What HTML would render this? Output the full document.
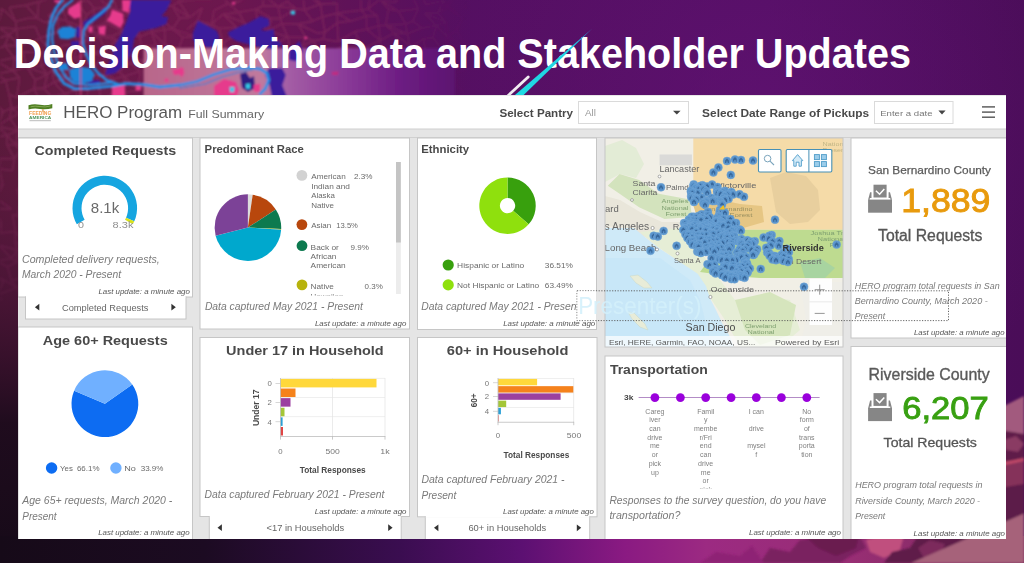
<!DOCTYPE html>
<html><head><meta charset="utf-8">
<style>
*{margin:0;padding:0}
html,body{width:1024px;height:563px;overflow:hidden;background:#4b0f5c}
svg{display:block;position:absolute;left:0;top:0}
text{font-family:"Liberation Sans",sans-serif}
</style></head><body>
<svg width="1024" height="563" viewBox="0 0 1024 563">
<defs>
<linearGradient id="gbase" x1="0" y1="0" x2="1" y2="0">
<stop offset="0" stop-color="#5c1a3c"/><stop offset="0.10" stop-color="#6a1a48"/><stop offset="0.22" stop-color="#6c174e"/><stop offset="0.34" stop-color="#5f1258"/><stop offset="0.46" stop-color="#540f61"/><stop offset="0.75" stop-color="#520e61"/><stop offset="1" stop-color="#4a0d58"/></linearGradient>
<linearGradient id="gleft" x1="0" y1="0" x2="0" y2="1">
<stop offset="0" stop-color="#5a1a3c" stop-opacity="0"/><stop offset="0.3" stop-color="#4a1438" stop-opacity="0.45"/><stop offset="0.7" stop-color="#1c0b1c" stop-opacity="0.95"/><stop offset="1" stop-color="#160a18"/></linearGradient>
<linearGradient id="gbot" x1="0" y1="0" x2="1" y2="0">
<stop offset="0" stop-color="#160a18"/><stop offset="0.2" stop-color="#1c0b22"/><stop offset="0.39" stop-color="#3a0d50"/><stop offset="0.51" stop-color="#5c1072"/><stop offset="0.61" stop-color="#8a1a82"/><stop offset="0.69" stop-color="#9c2a82"/><stop offset="0.83" stop-color="#982e74"/><stop offset="1" stop-color="#7a2a5c"/></linearGradient>
<linearGradient id="gpanel" x1="0" y1="0" x2="1" y2="0">
<stop offset="0" stop-color="#b8668a"/><stop offset="0.38" stop-color="#c07a9e"/><stop offset="0.45" stop-color="#a660a6"/><stop offset="0.65" stop-color="#8a3a98"/><stop offset="0.83" stop-color="#6c1c82"/><stop offset="1" stop-color="#5c1470"/></linearGradient>
<linearGradient id="gartfade" x1="0" y1="0" x2="1" y2="0">
<stop offset="0" stop-color="#fff" stop-opacity="1"/><stop offset="0.7" stop-color="#fff" stop-opacity="1"/><stop offset="1" stop-color="#fff" stop-opacity="0"/></linearGradient>
<pattern id="roads" width="46" height="40" patternUnits="userSpaceOnUse" patternTransform="rotate(-17) skewX(14)">
<path d="M0,6 L46,10 M0,22 L20,20 L46,26 M0,35 L46,33 M8,0 L10,40 M22,0 L20,20 L26,40 M36,0 L38,40 M10,14 L22,12 M26,30 L38,28 M38,16 L46,18 M0,29 L8,28" stroke="#9a3668" stroke-width="1.3" fill="none" opacity="0.32"/>
</pattern>
<mask id="artmask"><rect x="0" y="0" width="470" height="300" fill="url(#gartfade)"/></mask>
<radialGradient id="gglow" cx="760" cy="120" r="330" gradientUnits="userSpaceOnUse"><stop offset="0" stop-color="#66147a" stop-opacity="0.55"/><stop offset="1" stop-color="#66147a" stop-opacity="0"/></radialGradient>
<filter id="soft"><feGaussianBlur stdDeviation="0.62"/></filter>
<filter id="soft2"><feGaussianBlur stdDeviation="0.8"/></filter>
</defs>
<rect width="1024" height="563" fill="url(#gbase)"/>
<rect x="400" y="0" width="624" height="420" fill="url(#gglow)"/>
<g filter="url(#soft2)">
<g mask="url(#artmask)"><path d="M-101.4,-35.4L-91.6,-39.4M-101.4,-35.4L-100.2,-24.2M-101.4,-35.4L-88.3,-26.5M-100.2,-24.2L-88.3,-26.5M-100.9,-11.3L-87.5,-12.4M-100.9,-11.3L-106.8,0.1M-100.9,-11.3L-93.8,1.9M-106.8,0.1L-93.8,1.9M-106.8,0.1L-91.3,13.1M-99.8,14.3L-91.3,13.1M-99.8,14.3L-107.7,22.3M-107.7,22.3L-104.7,38.4M-104.7,38.4L-90.6,34.0M-104.7,38.4L-102.3,44.2M-102.3,44.2L-86.8,50.3M-102.3,44.2L-96.7,63.5M-102.3,44.2L-89.8,62.9M-96.7,63.5L-89.8,62.9M-96.7,63.5L-102.6,72.7M-102.6,72.7L-93.6,70.9M-102.6,72.7L-104.1,79.8M-102.6,72.7L-84.8,84.9M-104.1,79.8L-84.8,84.9M-104.1,79.8L-103.7,92.2M-104.1,79.8L-94.6,99.6M-103.7,92.2L-94.6,99.6M-103.7,92.2L-103.8,105.6M-103.8,105.6L-90.6,105.7M-103.8,105.6L-108.2,119.3M-108.2,119.3L-101.5,134.3M-101.5,134.3L-103.8,144.6M-101.5,134.3L-94.7,144.2M-103.8,144.6L-94.7,144.2M-103.8,144.6L-101.0,156.8M-101.0,156.8L-90.3,156.3M-101.0,156.8L-104.4,165.7M-104.4,165.7L-92.2,167.1M-100.9,193.0L-90.3,194.3M-100.9,193.0L-102.7,201.2M-102.7,201.2L-90.9,200.6M-102.7,201.2L-105.9,211.8M-105.9,211.8L-87.3,217.8M-105.9,211.8L-98.6,226.4M-98.6,226.4L-90.3,224.8M-98.6,226.4L-100.9,238.3M-100.9,238.3L-96.9,253.9M-100.9,238.3L-90.7,254.8M-96.9,253.9L-90.7,254.8M-96.9,253.9L-108.5,260.8M-108.5,260.8L-87.6,263.9M-108.5,260.8L-97.3,274.8M-97.3,274.8L-88.7,271.9M-97.3,274.8L-99.7,286.2M-99.7,286.2L-95.2,290.7M-104.8,300.0L-90.4,300.6M-104.8,300.0L-101.5,309.1M-104.8,300.0L-93.2,313.5M-101.5,309.1L-104.7,321.6M-104.7,321.6L-87.1,321.3M-104.7,321.6L-99.8,336.9M-99.8,336.9L-93.9,336.6M-99.8,336.9L-104.4,344.8M-104.4,344.8L-91.9,344.7M-91.6,-39.4L-74.5,-33.1M-91.6,-39.4L-88.3,-26.5M-91.6,-39.4L-77.0,-25.7M-88.3,-26.5L-77.0,-25.7M-88.3,-26.5L-87.5,-12.4M-87.5,-12.4L-71.2,-14.3M-93.8,1.9L-82.4,-1.8M-93.8,1.9L-91.3,13.1M-91.3,13.1L-94.5,23.3M-94.5,23.3L-80.9,22.9M-90.6,34.0L-74.4,32.9M-90.6,34.0L-86.8,50.3M-89.8,62.9L-70.7,61.1M-89.8,62.9L-93.6,70.9M-93.6,70.9L-76.3,72.4M-93.6,70.9L-84.8,84.9M-84.8,84.9L-78.2,80.0M-84.8,84.9L-94.6,99.6M-94.6,99.6L-82.3,99.0M-94.6,99.6L-90.6,105.7M-90.6,105.7L-73.2,111.3M-90.6,105.7L-88.5,118.2M-88.5,118.2L-82.3,120.7M-88.5,118.2L-89.8,128.1M-89.8,128.1L-75.2,133.4M-89.8,128.1L-94.7,144.2M-89.8,128.1L-79.6,147.5M-94.7,144.2L-79.6,147.5M-90.3,156.3L-78.8,155.8M-90.3,156.3L-92.2,167.1M-92.2,167.1L-75.9,170.6M-92.2,167.1L-83.9,179.3M-83.9,179.3L-90.3,194.3M-83.9,179.3L-75.4,194.7M-90.3,194.3L-75.4,194.7M-90.3,194.3L-90.9,200.6M-90.9,200.6L-76.3,204.8M-90.9,200.6L-87.3,217.8M-87.3,217.8L-74.4,218.2M-87.3,217.8L-90.3,224.8M-90.3,224.8L-75.7,229.6M-90.3,224.8L-88.8,242.7M-88.8,242.7L-74.7,239.8M-88.8,242.7L-90.7,254.8M-90.7,254.8L-73.9,250.2M-90.7,254.8L-87.6,263.9M-87.6,263.9L-88.7,271.9M-88.7,271.9L-95.2,290.7M-95.2,290.7L-73.6,290.1M-95.2,290.7L-90.4,300.6M-95.2,290.7L-72.9,298.1M-90.4,300.6L-72.9,298.1M-90.4,300.6L-93.2,313.5M-93.2,313.5L-75.9,311.6M-93.2,313.5L-87.1,321.3M-87.1,321.3L-93.9,336.6M-87.1,321.3L-81.7,336.9M-93.9,336.6L-81.7,336.9M-93.9,336.6L-91.9,344.7M-74.5,-33.1L-62.2,-38.0M-74.5,-33.1L-77.0,-25.7M-77.0,-25.7L-63.2,-23.9M-77.0,-25.7L-71.2,-14.3M-71.2,-14.3L-61.0,-8.6M-71.2,-14.3L-82.4,-1.8M-82.4,-1.8L-67.2,-3.9M-82.4,-1.8L-75.5,8.4M-75.5,8.4L-63.8,13.4M-75.5,8.4L-80.9,22.9M-80.9,22.9L-67.7,21.3M-80.9,22.9L-74.4,32.9M-74.4,32.9L-58.3,37.2M-74.4,32.9L-79.2,51.0M-79.2,51.0L-65.5,51.0M-79.2,51.0L-70.7,61.1M-79.2,51.0L-63.6,61.1M-70.7,61.1L-63.6,61.1M-70.7,61.1L-76.3,72.4M-76.3,72.4L-67.7,71.2M-76.3,72.4L-78.2,80.0M-78.2,80.0L-59.2,87.0M-78.2,80.0L-82.3,99.0M-82.3,99.0L-61.6,94.8M-82.3,99.0L-73.2,111.3M-73.2,111.3L-61.3,106.2M-73.2,111.3L-82.3,120.7M-75.2,133.4L-59.0,134.3M-75.2,133.4L-79.6,147.5M-79.6,147.5L-63.1,147.1M-79.6,147.5L-78.8,155.8M-78.8,155.8L-75.9,170.6M-75.9,170.6L-65.4,165.6M-75.9,170.6L-72.9,181.0M-72.9,181.0L-64.6,178.7M-72.9,181.0L-75.4,194.7M-75.4,194.7L-76.3,204.8M-76.3,204.8L-63.7,206.0M-76.3,204.8L-74.4,218.2M-74.4,218.2L-60.7,214.9M-74.4,218.2L-75.7,229.6M-75.7,229.6L-65.8,223.5M-75.7,229.6L-74.7,239.8M-74.7,239.8L-73.9,250.2M-73.9,250.2L-60.1,251.7M-73.9,250.2L-77.3,264.0M-77.3,264.0L-66.7,265.5M-78.8,276.2L-66.3,272.2M-78.8,276.2L-73.6,290.1M-73.6,290.1L-65.4,283.2M-72.9,298.1L-59.0,296.9M-72.9,298.1L-75.9,311.6M-75.9,311.6L-68.2,307.3M-75.9,311.6L-75.5,325.6M-75.5,325.6L-60.8,322.5M-75.5,325.6L-81.7,336.9M-81.7,336.9L-63.8,336.1M-62.2,-38.0L-47.3,-38.3M-62.2,-38.0L-63.2,-23.9M-63.2,-23.9L-52.2,-26.5M-63.2,-23.9L-61.0,-8.6M-61.0,-8.6L-67.2,-3.9M-61.0,-8.6L-50.1,-2.6M-67.2,-3.9L-50.1,-2.6M-67.2,-3.9L-63.8,13.4M-63.8,13.4L-67.7,21.3M-67.7,21.3L-50.2,24.1M-67.7,21.3L-58.3,37.2M-58.3,37.2L-48.0,37.9M-58.3,37.2L-65.5,51.0M-65.5,51.0L-63.6,61.1M-63.6,61.1L-45.3,56.5M-63.6,61.1L-67.7,71.2M-67.7,71.2L-48.1,73.5M-67.7,71.2L-59.2,87.0M-59.2,87.0L-52.3,83.3M-59.2,87.0L-61.6,94.8M-59.2,87.0L-50.9,99.0M-61.6,94.8L-61.3,106.2M-59.0,134.3L-45.0,131.3M-59.0,134.3L-63.1,147.1M-63.1,147.1L-47.0,158.0M-64.0,152.8L-47.0,158.0M-64.0,152.8L-65.4,165.6M-64.6,178.7L-51.6,182.6M-64.6,178.7L-63.9,191.3M-63.9,191.3L-47.7,195.2M-63.9,191.3L-63.7,206.0M-63.9,191.3L-48.7,205.6M-63.7,206.0L-60.7,214.9M-60.7,214.9L-53.6,218.6M-60.7,214.9L-65.8,223.5M-65.8,223.5L-45.8,226.0M-65.8,223.5L-61.6,235.5M-65.8,223.5L-55.8,238.7M-61.6,235.5L-55.8,238.7M-61.6,235.5L-60.1,251.7M-60.1,251.7L-48.5,253.3M-60.1,251.7L-66.7,265.5M-66.7,265.5L-52.1,259.3M-66.3,272.2L-46.2,271.6M-65.4,283.2L-49.3,284.4M-65.4,283.2L-59.0,296.9M-59.0,296.9L-50.5,301.3M-59.0,296.9L-68.2,307.3M-68.2,307.3L-55.2,308.1M-68.2,307.3L-60.8,322.5M-60.8,322.5L-48.9,324.7M-60.8,322.5L-63.8,336.1M-63.8,336.1L-59.2,350.5M-59.2,350.5L-45.0,346.8M-47.3,-38.3L-32.0,-39.2M-47.3,-38.3L-52.2,-26.5M-52.2,-26.5L-41.5,-23.7M-52.2,-26.5L-53.4,-12.2M-52.2,-26.5L-37.9,-10.1M-53.4,-12.2L-50.1,-2.6M-50.1,-2.6L-37.8,0.2M-51.0,10.7L-50.2,24.1M-50.2,24.1L-40.7,23.0M-50.2,24.1L-48.0,37.9M-48.0,37.9L-32.9,39.1M-53.0,50.2L-41.6,50.6M-53.0,50.2L-45.3,56.5M-53.0,50.2L-31.8,60.0M-45.3,56.5L-31.8,60.0M-45.3,56.5L-48.1,73.5M-45.3,56.5L-38.3,69.4M-48.1,73.5L-38.3,69.4M-48.1,73.5L-52.3,83.3M-52.3,83.3L-35.7,83.7M-50.9,99.0L-38.1,91.9M-50.9,99.0L-50.1,108.2M-50.9,99.0L-31.8,107.8M-50.1,108.2L-31.8,107.8M-48.6,122.0L-39.9,122.0M-48.6,122.0L-45.0,131.3M-45.0,131.3L-35.4,131.5M-45.0,131.3L-50.6,141.2M-50.6,141.2L-37.3,140.0M-50.6,141.2L-47.0,158.0M-47.0,158.0L-35.7,154.8M-47.0,158.0L-50.7,169.2M-50.7,169.2L-34.9,170.8M-50.7,169.2L-51.6,182.6M-50.7,169.2L-38.1,179.2M-51.6,182.6L-38.1,179.2M-47.7,195.2L-42.4,190.8M-47.7,195.2L-48.7,205.6M-48.7,205.6L-33.2,206.5M-48.7,205.6L-53.6,218.6M-48.7,205.6L-39.2,213.8M-53.6,218.6L-45.8,226.0M-45.8,226.0L-55.8,238.7M-45.8,226.0L-35.2,236.2M-55.8,238.7L-35.2,236.2M-55.8,238.7L-48.5,253.3M-48.5,253.3L-33.5,247.3M-48.5,253.3L-52.1,259.3M-52.1,259.3L-41.8,260.9M-49.3,284.4L-50.5,301.3M-50.5,301.3L-39.6,300.8M-50.5,301.3L-55.2,308.1M-55.2,308.1L-42.4,311.0M-55.2,308.1L-48.9,324.7M-48.9,324.7L-38.2,320.5M-48.9,324.7L-48.9,336.4M-48.9,324.7L-38.7,334.4M-48.9,336.4L-45.0,346.8M-45.0,346.8L-37.1,346.1M-32.0,-39.2L-22.7,-38.6M-32.0,-39.2L-41.5,-23.7M-41.5,-23.7L-37.9,-10.1M-41.5,-23.7L-21.8,-11.7M-37.9,-10.1L-21.8,-11.7M-37.9,-10.1L-37.8,0.2M-37.8,0.2L-22.8,0.9M-37.8,0.2L-32.9,12.4M-32.9,12.4L-19.8,9.8M-32.9,12.4L-40.7,23.0M-40.7,23.0L-32.9,39.1M-32.9,39.1L-19.4,34.4M-32.9,39.1L-41.6,50.6M-32.9,39.1L-27.7,51.2M-41.6,50.6L-31.8,60.0M-31.8,60.0L-25.5,63.8M-31.8,60.0L-38.3,69.4M-31.8,60.0L-22.5,68.8M-38.3,69.4L-22.5,68.8M-38.3,69.4L-35.7,83.7M-35.7,83.7L-38.1,91.9M-38.1,91.9L-28.2,92.5M-38.1,91.9L-31.8,107.8M-38.1,91.9L-20.0,107.0M-31.8,107.8L-20.0,107.0M-31.8,107.8L-39.9,122.0M-39.9,122.0L-35.4,131.5M-35.4,131.5L-23.9,133.0M-35.4,131.5L-37.3,140.0M-35.4,131.5L-30.3,141.1M-37.3,140.0L-30.3,141.1M-37.3,140.0L-21.4,158.8M-35.7,154.8L-21.4,158.8M-35.7,154.8L-34.9,170.8M-34.9,170.8L-38.1,179.2M-38.1,179.2L-22.9,181.5M-42.4,190.8L-33.2,206.5M-42.4,190.8L-25.8,199.9M-33.2,206.5L-25.8,199.9M-33.2,206.5L-29.5,211.6M-39.2,213.8L-29.5,211.6M-39.2,213.8L-38.8,228.2M-38.8,228.2L-22.5,227.4M-38.8,228.2L-35.2,236.2M-35.2,236.2L-25.4,236.4M-35.2,236.2L-33.5,247.3M-33.5,247.3L-25.8,248.8M-33.5,247.3L-41.8,260.9M-41.8,260.9L-22.9,267.0M-41.8,260.9L-34.3,273.7M-34.3,273.7L-19.2,271.8M-40.3,288.0L-29.9,290.7M-40.3,288.0L-39.6,300.8M-40.3,288.0L-23.3,301.1M-39.6,300.8L-23.3,301.1M-39.6,300.8L-42.4,311.0M-42.4,311.0L-38.2,320.5M-38.2,320.5L-22.9,322.4M-38.2,320.5L-38.7,334.4M-38.7,334.4L-25.1,331.0M-38.7,334.4L-37.1,346.1M-37.1,346.1L-21.2,349.6M-22.7,-38.6L-12.9,-36.2M-28.7,-22.9L-21.8,-11.7M-21.8,-11.7L-12.7,-14.6M-21.8,-11.7L-22.8,0.9M-22.8,0.9L-12.9,-3.9M-22.8,0.9L-19.8,9.8M-22.8,0.9L-6.5,14.4M-19.8,9.8L-6.5,14.4M-19.8,9.8L-23.8,26.4M-23.8,26.4L-11.2,26.8M-23.8,26.4L-19.4,34.4M-19.4,34.4L-8.8,35.1M-19.4,34.4L-27.7,51.2M-27.7,51.2L-12.1,47.9M-27.7,51.2L-25.5,63.8M-25.5,63.8L-5.7,62.2M-25.5,63.8L-22.5,68.8M-25.5,63.8L-15.2,75.1M-22.5,68.8L-15.2,75.1M-22.5,68.8L-25.3,85.5M-25.3,85.5L-7.8,85.9M-25.3,85.5L-28.2,92.5M-20.0,107.0L-6.4,110.7M-20.0,107.0L-23.4,116.6M-23.4,116.6L-11.2,121.7M-23.4,116.6L-23.9,133.0M-23.9,133.0L-30.3,141.1M-21.8,164.4L-17.4,166.3M-21.8,164.4L-22.9,181.5M-22.9,181.5L-26.0,192.8M-22.9,181.5L-15.4,194.9M-26.0,192.8L-15.4,194.9M-26.0,192.8L-25.8,199.9M-25.8,199.9L-8.5,202.0M-25.8,199.9L-29.5,211.6M-29.5,211.6L-11.6,215.8M-22.5,227.4L-9.7,226.4M-22.5,227.4L-25.4,236.4M-25.4,236.4L-8.5,240.3M-25.4,236.4L-25.8,248.8M-25.4,236.4L-8.2,253.3M-25.8,248.8L-8.2,253.3M-25.8,248.8L-22.9,267.0M-25.8,248.8L-8.7,259.3M-22.9,267.0L-8.7,259.3M-22.9,267.0L-19.2,271.8M-22.9,267.0L-9.0,277.0M-19.2,271.8L-29.9,290.7M-29.9,290.7L-15.2,286.3M-29.9,290.7L-23.3,301.1M-23.3,301.1L-27.6,310.7M-27.6,310.7L-14.1,307.7M-27.6,310.7L-22.9,322.4M-22.9,322.4L-12.2,326.2M-25.1,331.0L-12.5,334.9M-25.1,331.0L-21.2,349.6M-25.1,331.0L-5.8,347.4M-21.2,349.6L-5.8,347.4M-12.9,-36.2L-10.8,-24.7M-10.8,-24.7L2.8,-27.3M-10.8,-24.7L-12.7,-14.6M-12.7,-14.6L-12.9,-3.9M-12.7,-14.6L-4.1,3.4M-12.9,-3.9L-4.1,3.4M-12.9,-3.9L-6.5,14.4M-6.5,14.4L-11.2,26.8M-11.2,26.8L-3.0,23.9M-11.2,26.8L-8.8,35.1M-8.8,35.1L4.0,32.3M-12.1,47.9L-5.7,62.2M-5.7,62.2L3.2,60.6M-5.7,62.2L-15.2,75.1M-15.2,75.1L-1.2,70.0M-15.2,75.1L-7.8,85.9M-15.2,75.1L4.4,84.2M-7.8,85.9L4.4,84.2M-7.8,85.9L-10.2,94.9M-7.8,85.9L-1.9,97.4M-10.2,94.9L-1.9,97.4M-10.2,94.9L-6.4,110.7M-6.4,110.7L1.2,103.8M-6.4,110.7L-11.2,121.7M-7.6,130.8L-0.1,133.6M-11.0,140.1L-1.0,146.7M-11.0,140.1L-11.4,155.2M-11.4,155.2L5.2,151.9M-11.4,155.2L-17.4,166.3M-17.4,166.3L-8.8,180.4M-8.8,180.4L-0.8,182.6M-8.8,180.4L-15.4,194.9M-15.4,194.9L-8.5,202.0M-8.5,202.0L7.3,201.3M-8.5,202.0L-11.6,215.8M-11.6,215.8L0.2,218.8M-11.6,215.8L-9.7,226.4M-9.7,226.4L5.0,227.0M-9.7,226.4L-8.5,240.3M-8.5,240.3L-8.2,253.3M-8.2,253.3L3.9,248.1M-8.2,253.3L-8.7,259.3M-8.2,253.3L1.1,262.8M-8.7,259.3L1.1,262.8M-8.7,259.3L-9.0,277.0M-9.0,277.0L0.3,271.5M-9.0,277.0L-15.2,286.3M-15.2,286.3L0.3,284.0M-15.2,286.3L-14.0,296.6M-15.2,286.3L2.5,300.3M-14.0,296.6L2.5,300.3M-14.0,296.6L-14.1,307.7M-14.1,307.7L-0.4,309.1M-14.1,307.7L-12.2,326.2M-12.2,326.2L3.7,322.3M-12.2,326.2L-12.5,334.9M-12.5,334.9L2.5,335.1M-12.5,334.9L-5.8,347.4M-5.8,347.4L7.5,350.5M7.5,-34.8L18.1,-38.0M7.5,-34.8L2.8,-27.3M2.8,-27.3L9.5,-20.8M2.8,-27.3L3.9,-9.9M3.9,-9.9L18.6,-11.0M-4.1,3.4L11.7,-1.8M-0.1,11.7L17.7,12.5M-0.1,11.7L-3.0,23.9M-0.1,11.7L13.8,25.0M-3.0,23.9L13.8,25.0M-3.0,23.9L4.0,32.3M4.0,32.3L18.3,33.4M4.0,32.3L4.0,47.2M4.0,47.2L10.7,51.7M4.0,47.2L3.2,60.6M3.2,60.6L19.7,62.8M3.2,60.6L-1.2,70.0M3.2,60.6L8.9,68.2M-1.2,70.0L8.9,68.2M-1.2,70.0L4.4,84.2M4.4,84.2L-1.9,97.4M4.4,84.2L14.1,92.5M-1.9,97.4L14.1,92.5M-1.9,97.4L1.2,103.8M-1.9,97.4L16.4,104.2M1.2,103.8L-2.3,115.9M-2.3,115.9L9.3,121.0M-2.3,115.9L-0.1,133.6M-0.1,133.6L16.5,132.6M-0.1,133.6L11.9,143.3M5.2,151.9L13.4,154.2M5.2,151.9L4.4,171.0M5.2,151.9L15.2,170.1M4.4,171.0L15.2,170.1M4.4,171.0L-0.8,182.6M-0.8,182.6L12.2,176.4M-0.8,182.6L-0.6,191.2M-0.6,191.2L15.8,192.3M-0.6,191.2L7.3,201.3M7.3,201.3L18.4,201.0M0.2,218.8L12.3,213.3M0.2,218.8L5.0,227.0M5.0,227.0L18.8,226.2M5.0,227.0L4.3,241.7M4.3,241.7L14.4,243.1M4.3,241.7L3.9,248.1M3.9,248.1L14.4,251.5M3.9,248.1L1.1,262.8M1.1,262.8L15.2,266.5M1.1,262.8L0.3,271.5M0.3,271.5L15.3,274.0M0.3,271.5L0.3,284.0M0.3,284.0L2.5,300.3M2.5,300.3L12.2,295.7M2.5,300.3L-0.4,309.1M-0.4,309.1L13.6,310.8M-0.4,309.1L3.7,322.3M3.7,322.3L17.7,321.3M2.5,335.1L15.5,331.5M2.5,335.1L7.5,350.5M7.5,350.5L13.4,348.1M18.1,-38.0L9.5,-20.8M18.1,-38.0L28.0,-22.4M9.5,-20.8L18.6,-11.0M9.5,-20.8L27.0,-14.8M18.6,-11.0L27.0,-14.8M18.6,-11.0L11.7,-1.8M18.6,-11.0L24.7,1.8M11.7,-1.8L24.7,1.8M11.7,-1.8L17.7,12.5M17.7,12.5L27.8,8.9M17.7,12.5L13.8,25.0M17.7,12.5L27.9,24.5M13.8,25.0L27.9,24.5M13.8,25.0L18.3,33.4M18.3,33.4L10.7,51.7M10.7,51.7L29.7,47.3M19.7,62.8L31.7,58.2M19.7,62.8L8.9,68.2M8.9,68.2L24.4,71.0M13.9,83.1L32.9,86.9M13.9,83.1L14.1,92.5M14.1,92.5L23.7,94.6M14.1,92.5L16.4,104.2M14.1,92.5L27.8,106.5M16.4,104.2L27.8,106.5M16.4,104.2L9.3,121.0M9.3,121.0L25.1,118.7M9.3,121.0L16.5,132.6M16.5,132.6L26.3,132.1M16.5,132.6L11.9,143.3M11.9,143.3L28.7,143.8M13.4,154.2L32.0,156.0M13.4,154.2L15.2,170.1M13.4,154.2L23.1,169.5M15.2,170.1L23.1,169.5M15.2,170.1L12.2,176.4M15.2,170.1L32.4,177.7M12.2,176.4L32.4,177.7M12.2,176.4L15.8,192.3M15.8,192.3L21.7,191.5M15.8,192.3L18.4,201.0M18.4,201.0L29.4,203.9M18.4,201.0L12.3,213.3M12.3,213.3L30.2,216.5M12.3,213.3L18.8,226.2M18.8,226.2L31.7,223.8M14.4,243.1L26.4,241.5M14.4,243.1L14.4,251.5M14.4,243.1L25.3,247.8M14.4,251.5L25.3,247.8M14.4,251.5L15.2,266.5M15.2,266.5L28.1,266.3M15.2,266.5L15.3,274.0M15.3,274.0L25.3,276.2M15.3,274.0L9.4,290.0M9.4,290.0L22.8,289.0M9.4,290.0L12.2,295.7M12.2,295.7L30.3,297.0M12.2,295.7L13.6,310.8M13.6,310.8L17.7,321.3M17.7,321.3L29.2,325.0M17.7,321.3L15.5,331.5M15.5,331.5L25.0,333.6M15.5,331.5L13.4,348.1M13.4,348.1L33.2,348.2M25.2,-37.4L41.9,-35.6M25.2,-37.4L28.0,-22.4M28.0,-22.4L41.0,-22.3M28.0,-22.4L27.0,-14.8M27.0,-14.8L45.7,-12.7M27.0,-14.8L24.7,1.8M24.7,1.8L41.9,1.3M24.7,1.8L27.8,8.9M27.8,8.9L45.2,14.4M27.8,8.9L27.9,24.5M27.9,24.5L42.0,27.0M27.9,24.5L32.8,39.4M27.9,24.5L46.1,37.0M32.8,39.4L46.1,37.0M32.8,39.4L29.7,47.3M29.7,47.3L39.2,49.5M29.7,47.3L31.7,58.2M31.7,58.2L24.4,71.0M31.7,58.2L38.3,68.9M24.4,71.0L38.3,68.9M24.4,71.0L32.9,86.9M24.4,71.0L44.2,87.6M32.9,86.9L44.2,87.6M32.9,86.9L23.7,94.6M23.7,94.6L37.9,93.0M23.7,94.6L27.8,106.5M27.8,106.5L39.3,107.0M27.8,106.5L25.1,118.7M25.1,118.7L37.1,123.4M25.1,118.7L26.3,132.1M25.1,118.7L38.0,130.0M26.3,132.1L38.0,130.0M26.3,132.1L28.7,143.8M28.7,143.8L35.5,144.7M28.7,143.8L32.0,156.0M32.0,156.0L44.5,152.9M32.0,156.0L23.1,169.5M23.1,169.5L35.1,167.1M32.4,177.7L21.7,191.5M21.7,191.5L34.8,188.2M21.7,191.5L29.4,203.9M21.7,191.5L39.2,201.1M29.4,203.9L39.2,201.1M29.4,203.9L30.2,216.5M30.2,216.5L36.6,217.0M30.2,216.5L31.7,223.8M31.7,223.8L42.9,225.0M31.7,223.8L26.4,241.5M26.4,241.5L25.3,247.8M25.3,247.8L39.1,253.2M25.3,247.8L28.1,266.3M28.1,266.3L37.3,263.5M28.1,266.3L25.3,276.2M25.3,276.2L44.9,274.9M22.8,289.0L36.8,290.1M22.8,289.0L30.3,297.0M30.3,297.0L23.5,313.1M23.5,313.1L39.4,314.6M23.5,313.1L29.2,325.0M23.5,313.1L41.8,320.7M29.2,325.0L41.8,320.7M29.2,325.0L25.0,333.6M25.0,333.6L34.9,338.5M33.2,348.2L44.7,345.9M41.9,-35.6L55.2,-35.8M41.9,-35.6L50.0,-20.0M41.0,-22.3L50.0,-20.0M45.7,-12.7L47.6,-0.2M41.9,1.3L47.6,-0.2M41.9,1.3L45.2,14.4M45.2,14.4L53.8,14.3M45.2,14.4L42.0,27.0M42.0,27.0L53.9,24.8M42.0,27.0L46.1,37.0M46.1,37.0L51.9,33.1M46.1,37.0L39.2,49.5M39.2,49.5L50.4,45.9M39.2,49.5L44.7,59.2M44.7,59.2L58.3,59.9M44.7,59.2L38.3,68.9M38.3,68.9L53.2,75.7M38.3,68.9L44.2,87.6M44.2,87.6L52.9,84.0M37.9,93.0L48.9,97.8M39.3,107.0L50.5,110.2M39.3,107.0L37.1,123.4M37.1,123.4L38.0,130.0M38.0,130.0L51.2,129.7M38.0,130.0L35.5,144.7M35.5,144.7L53.9,140.3M35.5,144.7L44.5,152.9M44.5,152.9L54.8,155.2M44.5,152.9L35.1,167.1M35.1,167.1L56.1,168.1M35.1,167.1L42.8,182.7M42.8,182.7L58.2,177.8M42.8,182.7L34.8,188.2M34.8,188.2L39.2,201.1M39.2,201.1L58.8,200.0M36.6,217.0L54.9,212.9M36.6,217.0L42.9,225.0M36.6,217.0L55.4,227.4M42.9,225.0L55.4,227.4M42.9,225.0L36.2,237.4M36.2,237.4L48.9,241.9M36.2,237.4L39.1,253.2M39.1,253.2L53.3,249.6M39.1,253.2L37.3,263.5M37.3,263.5L48.2,261.6M37.3,263.5L44.9,274.9M44.9,274.9L36.8,290.1M45.7,297.7L51.5,298.2M45.7,297.7L39.4,314.6M39.4,314.6L51.7,314.7M39.4,314.6L41.8,320.7M39.4,314.6L58.0,324.2M41.8,320.7L58.0,324.2M41.8,320.7L34.9,338.5M34.9,338.5L47.6,333.9M44.7,345.9L56.9,344.7M55.2,-35.8L68.6,-36.2M55.2,-35.8L50.0,-20.0M50.0,-20.0L56.4,-14.1M56.4,-14.1L70.7,-14.3M47.6,-0.2L66.0,-1.7M47.6,-0.2L53.8,14.3M53.8,14.3L53.9,24.8M53.9,24.8L63.2,22.6M53.9,24.8L51.9,33.1M51.9,33.1L67.0,37.2M51.9,33.1L50.4,45.9M51.9,33.1L62.8,45.4M50.4,45.9L62.8,45.4M50.4,45.9L58.3,59.9M58.3,59.9L70.1,58.4M58.3,59.9L53.2,75.7M58.3,59.9L69.0,72.3M53.2,75.7L69.0,72.3M53.2,75.7L52.9,84.0M53.2,75.7L70.0,82.4M52.9,84.0L70.0,82.4M52.9,84.0L48.9,97.8M52.9,84.0L67.9,92.4M48.9,97.8L67.9,92.4M48.9,97.8L50.5,110.2M50.5,110.2L64.8,104.4M50.5,110.2L55.1,122.2M55.1,122.2L66.6,121.3M55.1,122.2L51.2,129.7M51.2,129.7L65.1,130.8M51.2,129.7L68.0,144.3M53.9,140.3L68.0,144.3M53.9,140.3L54.8,155.2M53.9,140.3L64.3,153.3M54.8,155.2L64.3,153.3M56.1,168.1L58.2,177.8M58.2,177.8L67.2,176.0M58.2,177.8L54.6,190.7M58.2,177.8L68.8,190.8M54.6,190.7L68.8,190.8M54.6,190.7L58.8,200.0M58.8,200.0L68.1,204.5M58.8,200.0L54.9,212.9M58.8,200.0L67.4,217.8M54.9,212.9L67.4,217.8M54.9,212.9L55.4,227.4M55.4,227.4L67.0,225.9M55.4,227.4L48.9,241.9M48.9,241.9L64.2,235.3M48.9,241.9L53.3,249.6M48.9,241.9L67.1,252.8M53.3,249.6L67.1,252.8M48.2,261.6L69.3,265.4M54.7,276.8L69.4,275.9M54.7,276.8L50.7,288.5M50.7,288.5L60.7,285.7M50.7,288.5L51.5,298.2M51.5,298.2L66.6,300.2M51.5,298.2L51.7,314.7M51.7,314.7L61.5,310.0M51.7,314.7L58.0,324.2M58.0,324.2L68.1,325.2M58.0,324.2L47.6,333.9M47.6,333.9L67.9,335.8M47.6,333.9L56.9,344.7M56.9,344.7L64.9,349.0M68.6,-36.2L84.6,-35.5M60.6,-20.0L76.7,-23.9M60.6,-20.0L70.7,-14.3M60.6,-20.0L77.8,-10.3M70.7,-14.3L77.8,-10.3M70.7,-14.3L66.0,-1.7M66.0,-1.7L82.4,0.1M66.9,12.3L82.9,14.6M66.9,12.3L63.2,22.6M63.2,22.6L67.0,37.2M67.0,37.2L82.1,33.5M67.0,37.2L62.8,45.4M67.0,37.2L74.2,45.8M62.8,45.4L74.2,45.8M62.8,45.4L70.1,58.4M70.1,58.4L81.7,61.4M70.1,58.4L69.0,72.3M69.0,72.3L76.5,75.2M69.0,72.3L70.0,82.4M70.0,82.4L79.8,83.4M70.0,82.4L67.9,92.4M67.9,92.4L74.6,99.5M67.9,92.4L64.8,104.4M64.8,104.4L77.7,110.9M64.8,104.4L66.6,121.3M66.6,121.3L78.4,120.1M66.6,121.3L65.1,130.8M65.1,130.8L81.5,129.7M65.1,130.8L68.0,144.3M68.0,144.3L81.7,147.5M68.0,144.3L64.3,153.3M64.3,153.3L83.9,156.3M64.3,153.3L61.9,164.4M64.3,153.3L74.6,170.0M61.9,164.4L74.6,170.0M61.9,164.4L67.2,176.0M67.2,176.0L79.1,182.6M67.2,176.0L68.8,190.8M67.2,176.0L75.7,191.9M68.8,190.8L75.7,191.9M68.8,190.8L68.1,204.5M68.1,204.5L84.0,200.8M68.1,204.5L67.4,217.8M67.4,217.8L78.4,211.9M67.4,217.8L67.0,225.9M67.0,225.9L64.2,235.3M64.2,235.3L82.4,242.7M67.1,252.8L82.4,249.6M67.1,252.8L69.3,265.4M69.3,265.4L79.5,265.0M69.3,265.4L69.4,275.9M69.4,275.9L60.7,285.7M69.4,275.9L80.7,283.2M60.7,285.7L80.7,283.2M60.7,285.7L66.6,300.2M66.6,300.2L78.3,298.7M61.5,310.0L68.1,325.2M61.5,310.0L81.6,320.3M68.1,325.2L81.6,320.3M68.1,325.2L67.9,335.8M67.9,335.8L78.2,333.0M67.9,335.8L64.9,349.0M64.9,349.0L81.6,345.5M84.6,-35.5L95.3,-39.6M84.6,-35.5L76.7,-23.9M76.7,-23.9L77.8,-10.3M77.8,-10.3L82.4,0.1M77.8,-10.3L90.7,-0.7M82.4,0.1L90.7,-0.7M82.4,0.1L82.9,14.6M82.9,14.6L95.1,13.5M82.9,14.6L75.3,27.5M75.3,27.5L93.3,25.9M75.3,27.5L82.1,33.5M82.1,33.5L93.9,39.8M82.1,33.5L74.2,45.8M74.2,45.8L94.0,50.7M74.2,45.8L81.7,61.4M81.7,61.4L93.2,59.3M81.7,61.4L76.5,75.2M76.5,75.2L79.8,83.4M76.5,75.2L94.2,83.9M79.8,83.4L94.2,83.9M79.8,83.4L74.6,99.5M74.6,99.5L77.7,110.9M74.6,99.5L92.4,104.1M77.7,110.9L92.4,104.1M77.7,110.9L78.4,120.1M77.7,110.9L93.0,122.8M78.4,120.1L93.0,122.8M78.4,120.1L81.5,129.7M81.5,129.7L96.1,132.3M81.5,129.7L81.7,147.5M81.7,147.5L93.3,142.0M81.7,147.5L83.9,156.3M81.7,147.5L94.8,152.0M83.9,156.3L94.8,152.0M83.9,156.3L74.6,170.0M74.6,170.0L87.6,167.0M74.6,170.0L79.1,182.6M79.1,182.6L94.0,178.6M79.1,182.6L75.7,191.9M75.7,191.9L87.0,192.9M75.7,191.9L84.0,200.8M84.0,200.8L94.2,201.2M78.4,211.9L89.3,214.4M78.4,211.9L76.8,224.7M76.8,224.7L91.6,223.8M76.8,224.7L82.4,242.7M76.8,224.7L94.7,242.9M82.4,242.7L94.7,242.9M82.4,242.7L82.4,249.6M82.4,249.6L79.5,265.0M79.5,265.0L90.3,265.6M79.5,265.0L79.9,275.8M79.5,265.0L91.5,277.1M79.9,275.8L91.5,277.1M80.7,283.2L91.6,290.3M78.3,298.7L90.4,301.3M78.3,298.7L74.8,310.1M74.8,310.1L87.6,311.3M74.8,310.1L81.6,320.3M81.6,320.3L98.1,318.9M78.2,333.0L88.7,333.3M78.2,333.0L81.6,345.5M78.2,333.0L92.4,343.3M81.6,345.5L92.4,343.3M92.5,-26.8L103.1,-25.1M92.5,-26.8L98.1,-11.2M98.1,-11.2L107.8,-15.6M98.1,-11.2L90.7,-0.7M90.7,-0.7L99.8,3.2M90.7,-0.7L95.1,13.5M90.7,-0.7L105.3,11.9M95.1,13.5L105.3,11.9M95.1,13.5L93.3,25.9M93.3,25.9L107.9,27.7M93.3,25.9L93.9,39.8M93.3,25.9L106.8,33.5M93.9,39.8L106.8,33.5M94.0,50.7L102.2,51.2M94.0,50.7L93.2,59.3M93.2,59.3L110.6,57.4M93.2,59.3L91.6,75.0M91.6,75.0L107.0,70.6M91.6,75.0L94.2,83.9M94.2,83.9L106.8,81.1M94.2,83.9L90.4,98.9M90.4,98.9L92.4,104.1M92.4,104.1L104.3,108.7M92.4,104.1L93.0,122.8M93.0,122.8L101.2,122.6M93.0,122.8L96.1,132.3M96.1,132.3L103.0,128.4M96.1,132.3L93.3,142.0M93.3,142.0L106.0,142.0M93.3,142.0L94.8,152.0M93.3,142.0L110.6,158.4M94.8,152.0L87.6,167.0M94.8,152.0L105.9,164.5M87.6,167.0L105.9,164.5M87.6,167.0L94.0,178.6M87.6,167.0L108.8,182.9M94.0,178.6L87.0,192.9M87.0,192.9L103.5,188.0M87.0,192.9L94.2,201.2M94.2,201.2L104.5,201.8M94.2,201.2L89.3,214.4M89.3,214.4L105.9,212.9M89.3,214.4L91.6,223.8M91.6,223.8L104.1,225.1M91.6,223.8L94.7,242.9M91.6,223.8L105.5,241.5M94.7,242.9L105.5,241.5M95.5,254.1L90.3,265.6M90.3,265.6L107.5,263.8M90.3,265.6L91.5,277.1M91.5,277.1L104.6,273.5M91.5,277.1L91.6,290.3M91.6,290.3L107.8,288.4M91.6,290.3L90.4,301.3M90.4,301.3L105.0,300.1M87.6,311.3L100.3,314.8M98.1,318.9L106.5,323.1M98.1,318.9L88.7,333.3M88.7,333.3L104.3,331.2M88.7,333.3L92.4,343.3M92.4,343.3L107.9,345.1M110.6,-33.4L117.8,-33.5M110.6,-33.4L103.1,-25.1M103.1,-25.1L107.8,-15.6M107.8,-15.6L122.3,-14.0M107.8,-15.6L99.8,3.2M99.8,3.2L115.0,0.4M99.8,3.2L105.3,11.9M105.3,11.9L117.2,15.1M105.3,11.9L107.9,27.7M105.3,11.9L121.4,20.2M107.9,27.7L121.4,20.2M107.9,27.7L106.8,33.5M106.8,33.5L119.7,37.9M106.8,33.5L102.2,51.2M102.2,51.2L116.0,51.3M102.2,51.2L110.6,57.4M110.6,57.4L120.0,57.2M107.0,70.6L117.5,72.9M107.0,70.6L106.8,81.1M106.8,81.1L107.4,99.6M107.4,99.6L119.5,95.8M107.4,99.6L104.3,108.7M104.3,108.7L120.1,110.4M104.3,108.7L101.2,122.6M101.2,122.6L118.7,119.8M101.2,122.6L103.0,128.4M103.0,128.4L124.1,129.0M103.0,128.4L106.0,142.0M106.0,142.0L110.6,158.4M110.6,158.4L121.0,153.4M110.6,158.4L105.9,164.5M105.9,164.5L116.5,169.6M108.8,182.9L122.6,181.7M108.8,182.9L103.5,188.0M103.5,188.0L114.6,191.3M103.5,188.0L117.5,204.0M104.5,201.8L117.5,204.0M104.5,201.8L105.9,212.9M105.9,212.9L104.1,225.1M104.1,225.1L105.5,241.5M105.5,241.5L117.1,248.4M105.9,252.5L107.5,263.8M107.5,263.8L112.7,263.1M107.5,263.8L104.6,273.5M104.6,273.5L107.8,288.4M107.8,288.4L114.9,289.4M107.8,288.4L105.0,300.1M105.0,300.1L100.3,314.8M100.3,314.8L117.6,311.3M100.3,314.8L106.5,323.1M106.5,323.1L122.6,320.8M106.5,323.1L104.3,331.2M106.5,323.1L113.8,333.4M104.3,331.2L113.8,333.4M104.3,331.2L107.9,345.1M107.9,345.1L115.9,345.4M117.8,-33.5L113.3,-25.6M113.3,-25.6L127.9,-23.2M113.3,-25.6L122.3,-14.0M122.3,-14.0L129.3,-9.4M122.3,-14.0L115.0,0.4M115.0,0.4L127.0,-2.0M115.0,0.4L129.9,13.5M117.2,15.1L129.9,13.5M117.2,15.1L121.4,20.2M121.4,20.2L133.0,26.2M121.4,20.2L119.7,37.9M119.7,37.9L129.1,35.2M119.7,37.9L116.0,51.3M116.0,51.3L128.8,45.6M116.0,51.3L120.0,57.2M120.0,57.2L137.2,56.1M120.0,57.2L117.5,72.9M120.0,57.2L129.9,73.9M117.5,72.9L129.9,73.9M117.5,72.9L118.7,85.0M118.7,85.0L137.4,80.9M118.7,85.0L119.5,95.8M119.5,95.8L120.1,110.4M120.1,110.4L128.9,105.6M120.1,110.4L118.7,119.8M118.7,119.8L124.1,129.0M124.1,129.0L129.3,140.1M119.5,140.8L129.3,140.1M119.5,140.8L121.0,153.4M121.0,153.4L128.8,159.4M121.0,153.4L116.5,169.6M116.5,169.6L132.4,169.3M116.5,169.6L130.6,177.4M122.6,181.7L130.6,177.4M122.6,181.7L114.6,191.3M122.6,181.7L130.5,189.3M114.6,191.3L130.5,189.3M114.6,191.3L117.5,204.0M114.6,191.3L132.7,206.8M117.5,204.0L132.7,206.8M117.5,204.0L117.0,211.6M117.0,211.6L128.8,214.0M117.0,211.6L120.9,229.0M120.9,229.0L137.3,228.1M120.9,229.0L117.7,242.2M117.7,242.2L125.9,238.4M117.7,242.2L117.1,248.4M117.1,248.4L134.3,247.6M117.1,248.4L112.7,263.1M112.7,263.1L128.6,264.7M112.7,263.1L119.4,274.6M119.4,274.6L136.3,275.8M119.4,274.6L114.9,289.4M114.9,289.4L133.5,286.7M114.9,289.4L116.2,302.3M116.2,302.3L132.0,301.7M116.2,302.3L117.6,311.3M117.6,311.3L128.9,313.2M117.6,311.3L122.6,320.8M122.6,320.8L130.4,321.7M122.6,320.8L113.8,333.4M122.6,320.8L127.2,335.3M113.8,333.4L127.2,335.3M113.8,333.4L115.9,345.4M134.1,-35.7L127.9,-23.2M127.9,-23.2L141.3,-24.3M127.9,-23.2L129.3,-9.4M129.3,-9.4L146.3,-2.4M127.0,-2.0L146.3,-2.4M127.0,-2.0L129.9,13.5M129.9,13.5L144.9,8.5M129.9,13.5L133.0,26.2M129.9,13.5L144.7,22.8M133.0,26.2L129.1,35.2M129.1,35.2L144.0,32.0M129.1,35.2L140.1,45.9M128.8,45.6L140.1,45.9M128.8,45.6L137.2,56.1M137.2,56.1L129.9,73.9M129.9,73.9L144.9,69.9M137.4,80.9L144.7,80.9M137.4,80.9L129.6,97.6M137.4,80.9L146.9,94.6M129.6,97.6L146.9,94.6M129.6,97.6L128.9,105.6M128.9,105.6L133.5,116.7M133.5,116.7L132.0,129.9M133.5,116.7L144.4,130.6M132.0,129.9L144.4,130.6M129.3,140.1L139.2,146.6M129.3,140.1L128.8,159.4M129.3,140.1L144.4,157.6M128.8,159.4L132.4,169.3M132.4,169.3L143.2,163.9M132.4,169.3L130.6,177.4M130.5,189.3L132.7,206.8M132.7,206.8L146.9,199.6M132.7,206.8L128.8,214.0M128.8,214.0L141.3,214.7M137.3,228.1L146.4,224.3M137.3,228.1L125.9,238.4M125.9,238.4L144.9,237.3M125.9,238.4L134.3,247.6M125.9,238.4L148.0,252.5M134.3,247.6L148.0,252.5M134.3,247.6L128.6,264.7M134.3,247.6L139.8,260.8M128.6,264.7L139.8,260.8M128.6,264.7L136.3,275.8M136.3,275.8L144.0,276.8M133.5,286.7L142.1,286.1M133.5,286.7L132.0,301.7M132.0,301.7L149.3,296.8M132.0,301.7L128.9,313.2M128.9,313.2L130.4,321.7M130.4,321.7L127.2,335.3M127.2,335.3L138.7,335.9M127.2,335.3L130.0,344.5M130.0,344.5L146.6,349.3M143.4,-36.1L163.3,-37.5M143.4,-36.1L157.5,-20.6M141.3,-24.3L157.5,-20.6M141.3,-24.3L150.4,-10.5M150.4,-10.5L156.4,-10.4M146.3,-2.4L157.5,3.6M146.3,-2.4L144.9,8.5M144.9,8.5L162.3,9.8M144.9,8.5L144.7,22.8M144.7,22.8L157.2,20.6M144.7,22.8L144.0,32.0M144.0,32.0L158.3,35.0M140.1,45.9L152.0,46.9M140.1,45.9L145.0,63.2M145.0,63.2L157.5,59.8M144.7,80.9L158.1,83.5M144.7,80.9L146.9,94.6M146.9,94.6L153.0,97.0M146.9,94.6L148.4,109.4M148.4,109.4L156.7,104.4M148.4,109.4L146.7,115.8M148.4,109.4L154.6,119.0M146.7,115.8L154.6,119.0M146.7,115.8L144.4,130.6M144.4,130.6L155.9,132.2M144.4,130.6L139.2,146.6M144.4,130.6L157.8,143.9M139.2,146.6L157.8,143.9M139.2,146.6L144.4,157.6M144.4,157.6L160.8,151.7M144.4,157.6L143.2,163.9M143.2,163.9L145.0,177.3M145.0,177.3L155.1,178.6M145.0,177.3L138.9,188.6M138.9,188.6L152.0,191.3M138.9,188.6L146.9,199.6M146.9,199.6L159.8,203.1M146.9,199.6L141.3,214.7M141.3,214.7L154.4,213.3M141.3,214.7L146.4,224.3M146.4,224.3L154.7,226.0M146.4,224.3L144.9,237.3M144.9,237.3L159.5,239.7M144.9,237.3L148.0,252.5M148.0,252.5L156.9,252.5M148.0,252.5L139.8,260.8M139.8,260.8L153.2,262.9M139.8,260.8L144.0,276.8M144.0,276.8L160.0,278.7M144.0,276.8L142.1,286.1M144.0,276.8L154.8,287.6M142.1,286.1L154.8,287.6M149.3,296.8L163.0,301.2M141.1,309.7L157.1,311.9M141.1,309.7L143.4,319.2M143.4,319.2L138.7,335.9M138.7,335.9L154.0,337.5M138.7,335.9L146.6,349.3M146.6,349.3L162.4,345.9M163.3,-37.5L175.7,-39.6M163.3,-37.5L157.5,-20.6M157.5,-20.6L165.7,-23.9M157.5,-20.6L156.4,-10.4M157.5,-20.6L170.3,-13.1M156.4,-10.4L170.3,-13.1M157.5,3.6L173.3,-2.8M157.5,3.6L162.3,9.8M162.3,9.8L169.2,9.8M162.3,9.8L157.2,20.6M157.2,20.6L170.6,21.8M157.2,20.6L158.3,35.0M157.2,20.6L167.5,36.2M158.3,35.0L167.5,36.2M152.0,46.9L168.0,45.8M157.5,59.8L171.9,61.0M157.5,59.8L154.0,69.0M154.0,69.0L169.4,72.8M154.0,69.0L158.1,83.5M158.1,83.5L172.5,86.4M158.1,83.5L153.0,97.0M158.1,83.5L173.2,94.3M153.0,97.0L173.2,94.3M153.0,97.0L156.7,104.4M156.7,104.4L170.6,110.7M156.7,104.4L154.6,119.0M154.6,119.0L167.3,121.3M154.6,119.0L155.9,132.2M154.6,119.0L173.8,133.1M155.9,132.2L173.8,133.1M155.9,132.2L157.8,143.9M155.9,132.2L173.2,146.1M157.8,143.9L173.2,146.1M157.8,143.9L160.8,151.7M160.8,151.7L168.9,156.5M160.8,151.7L155.0,166.4M160.8,151.7L168.9,168.0M155.1,178.6L170.8,177.7M155.1,178.6L152.0,191.3M152.0,191.3L171.2,191.6M152.0,191.3L159.8,203.1M154.4,213.3L167.4,212.7M154.4,213.3L154.7,226.0M159.5,239.7L165.1,235.7M159.5,239.7L156.9,252.5M156.9,252.5L168.4,252.8M153.2,262.9L165.5,262.7M153.2,262.9L160.0,278.7M160.0,278.7L174.4,274.9M160.0,278.7L154.8,287.6M154.8,287.6L166.0,290.0M154.8,287.6L163.0,301.2M163.0,301.2L157.1,311.9M157.1,311.9L166.8,311.0M157.1,311.9L174.7,322.1M158.2,322.2L174.7,322.1M158.2,322.2L154.0,337.5M154.0,337.5L170.9,332.9M154.0,337.5L162.4,345.9M175.7,-39.6L183.5,-33.8M175.7,-39.6L165.7,-23.9M165.7,-23.9L185.1,-21.3M170.3,-13.1L185.6,-12.6M170.3,-13.1L173.3,-2.8M173.3,-2.8L183.9,1.0M173.3,-2.8L169.2,9.8M169.2,9.8L170.6,21.8M169.2,9.8L178.6,22.9M170.6,21.8L178.6,22.9M170.6,21.8L167.5,36.2M167.5,36.2L168.0,45.8M167.5,36.2L179.2,43.9M168.0,45.8L179.2,43.9M168.0,45.8L171.9,61.0M171.9,61.0L185.8,63.3M169.4,72.8L186.7,83.1M172.5,86.4L186.7,83.1M172.5,86.4L173.2,94.3M173.2,94.3L183.2,94.9M173.2,94.3L170.6,110.7M170.6,110.7L167.3,121.3M167.3,121.3L177.9,121.3M167.3,121.3L181.6,127.9M173.8,133.1L181.6,127.9M173.2,146.1L180.1,145.4M173.2,146.1L168.9,156.5M173.2,146.1L189.4,152.4M168.9,156.5L168.9,168.0M168.9,168.0L180.5,163.7M168.9,168.0L170.8,177.7M170.8,177.7L185.4,179.3M170.8,177.7L171.2,191.6M170.8,177.7L180.9,189.8M171.2,191.6L180.9,189.8M171.2,191.6L169.6,201.3M169.6,201.3L167.4,212.7M167.4,212.7L180.1,214.4M167.4,212.7L172.1,224.2M172.1,224.2L186.1,229.4M172.1,224.2L165.1,235.7M165.1,235.7L186.3,238.3M165.1,235.7L168.4,252.8M168.4,252.8L186.7,251.5M168.4,252.8L165.5,262.7M165.5,262.7L184.7,260.3M165.5,262.7L174.4,274.9M165.5,262.7L182.1,271.9M174.4,274.9L182.1,271.9M175.3,295.4L184.9,296.0M175.3,295.4L166.8,311.0M166.8,311.0L174.7,322.1M174.7,322.1L185.6,320.1M174.7,322.1L170.9,332.9M174.7,322.1L183.1,333.1M170.9,332.9L183.1,333.1M170.9,332.9L173.9,345.5M173.9,345.5L182.5,346.7M183.5,-33.8L196.8,-37.8M183.5,-33.8L185.1,-21.3M185.1,-21.3L191.0,-27.4M185.1,-21.3L185.6,-12.6M185.6,-12.6L201.5,-13.5M183.9,1.0L191.2,-2.5M183.9,1.0L188.0,14.4M183.9,1.0L197.9,15.9M188.0,14.4L197.9,15.9M188.0,14.4L178.6,22.9M178.6,22.9L186.5,33.7M178.6,22.9L197.9,35.2M186.5,33.7L197.9,35.2M186.5,33.7L179.2,43.9M179.2,43.9L197.8,47.0M179.2,43.9L185.8,63.3M185.8,63.3L194.0,60.2M185.8,63.3L186.2,68.8M185.8,63.3L196.4,72.7M186.2,68.8L196.4,72.7M186.2,68.8L186.7,83.1M186.7,83.1L196.0,87.2M186.7,83.1L183.2,94.9M183.2,94.9L198.3,99.6M183.2,94.9L188.9,111.6M188.9,111.6L197.5,110.3M188.9,111.6L177.9,121.3M177.9,121.3L197.0,117.0M177.9,121.3L181.6,127.9M181.6,127.9L180.1,145.4M180.1,145.4L191.6,140.1M180.1,145.4L189.4,152.4M189.4,152.4L196.7,157.5M189.4,152.4L180.5,163.7M180.5,163.7L185.4,179.3M185.4,179.3L193.6,177.1M185.4,179.3L180.9,189.8M180.9,189.8L187.7,206.0M180.9,189.8L198.2,205.8M187.7,206.0L198.2,205.8M180.1,214.4L197.6,217.2M180.1,214.4L186.1,229.4M186.1,229.4L197.1,229.7M186.1,229.4L186.3,238.3M186.3,238.3L186.7,251.5M186.7,251.5L202.4,248.0M186.7,251.5L184.7,260.3M184.7,260.3L199.1,262.3M182.1,271.9L199.8,273.1M185.9,285.1L198.7,283.2M185.9,285.1L184.9,296.0M184.9,296.0L198.7,296.8M184.9,296.0L180.4,307.1M185.6,320.1L199.4,325.4M185.6,320.1L183.1,333.1M183.1,333.1L193.8,336.0M183.1,333.1L182.5,346.7M182.5,346.7L196.7,345.1M196.8,-37.8L214.6,-37.3M196.8,-37.8L191.0,-27.4M191.0,-27.4L204.3,-25.2M201.5,-13.5L213.2,-14.3M201.5,-13.5L191.2,-2.5M191.2,-2.5L210.2,0.4M191.2,-2.5L197.9,15.9M197.9,15.9L212.6,9.4M192.3,26.9L204.5,21.1M197.9,35.2L209.7,35.3M197.9,35.2L197.8,47.0M197.8,47.0L203.6,47.9M197.8,47.0L194.0,60.2M194.0,60.2L210.1,58.4M194.0,60.2L196.4,72.7M196.4,72.7L208.3,75.4M196.4,72.7L196.0,87.2M196.0,87.2L198.3,99.6M198.3,99.6L206.4,97.7M198.3,99.6L197.5,110.3M197.5,110.3L207.5,111.5M197.5,110.3L197.0,117.0M197.0,117.0L207.4,123.3M197.0,117.0L193.7,128.9M193.7,128.9L191.6,140.1M191.6,140.1L209.9,140.9M191.6,140.1L196.7,157.5M196.7,157.5L209.0,156.9M193.3,167.6L212.0,166.0M193.3,167.6L193.6,177.1M193.6,177.1L208.2,178.3M193.6,177.1L199.1,187.4M193.6,177.1L212.4,188.5M199.1,187.4L212.4,188.5M199.1,187.4L198.2,205.8M198.2,205.8L212.2,202.3M198.2,205.8L209.3,213.0M197.6,217.2L209.3,213.0M197.1,229.7L212.0,230.3M197.1,229.7L197.9,241.3M197.9,241.3L211.2,240.2M197.9,241.3L202.4,248.0M202.4,248.0L211.0,251.7M202.4,248.0L199.1,262.3M199.1,262.3L204.5,265.8M199.1,262.3L199.8,273.1M199.8,273.1L212.7,274.7M199.8,273.1L198.7,283.2M198.7,283.2L198.7,296.8M198.7,296.8L210.0,296.8M198.7,296.8L194.0,309.9M194.0,309.9L199.4,325.4M199.4,325.4L211.1,319.2M199.4,325.4L193.8,336.0M193.8,336.0L209.1,334.5M193.8,336.0L196.7,345.1M214.6,-37.3L227.9,-38.7M214.6,-37.3L204.3,-25.2M204.3,-25.2L220.7,-20.0M213.2,-14.3L210.2,0.4M210.2,0.4L223.1,3.9M212.6,9.4L204.5,21.1M204.5,21.1L217.6,27.8M204.5,21.1L209.7,35.3M204.5,21.1L223.9,33.8M203.6,47.9L224.1,49.0M203.6,47.9L210.1,58.4M203.6,47.9L227.9,62.4M210.1,58.4L227.9,62.4M210.1,58.4L208.3,75.4M208.3,75.4L223.7,71.9M208.3,75.4L208.3,86.8M208.3,86.8L228.4,80.2M208.3,86.8L206.4,97.7M206.4,97.7L224.3,97.4M206.4,97.7L207.5,111.5M207.5,111.5L221.8,110.1M207.5,111.5L207.4,123.3M207.4,123.3L208.5,130.8M208.5,130.8L227.3,129.1M208.5,130.8L209.9,140.9M209.9,140.9L219.0,144.7M209.9,140.9L209.0,156.9M209.0,156.9L220.2,155.9M212.0,166.0L223.6,167.4M212.0,166.0L208.2,178.3M208.2,178.3L221.7,181.8M208.2,178.3L212.4,188.5M212.4,188.5L212.2,202.3M212.2,202.3L224.4,206.6M212.2,202.3L209.3,213.0M209.3,213.0L223.7,212.5M212.0,230.3L222.8,224.0M212.0,230.3L211.2,240.2M211.2,240.2L216.8,238.0M211.2,240.2L227.3,253.8M211.0,251.7L227.3,253.8M211.0,251.7L204.5,265.8M204.5,265.8L217.6,260.6M204.5,265.8L212.7,274.7M204.5,265.8L223.0,277.9M212.7,274.7L223.0,277.9M212.7,274.7L222.1,290.3M209.5,286.4L222.1,290.3M209.5,286.4L210.0,296.8M210.0,296.8L220.1,302.9M210.0,296.8L208.9,311.5M208.9,311.5L218.4,312.0M211.1,319.2L227.4,324.7M211.1,319.2L209.1,334.5M209.1,334.5L218.3,336.2M209.1,334.5L211.8,347.6M211.8,347.6L223.4,343.0M227.9,-38.7L235.6,-37.4M227.9,-38.7L220.7,-20.0M220.7,-20.0L235.2,-25.7M220.7,-20.0L226.1,-13.5M226.1,-13.5L223.1,3.9M223.1,3.9L231.1,-3.0M223.1,14.9L238.7,11.7M223.1,14.9L217.6,27.8M217.6,27.8L230.7,20.8M217.6,27.8L223.9,33.8M223.9,33.8L241.0,36.8M223.9,33.8L224.1,49.0M224.1,49.0L232.7,45.4M224.1,49.0L227.9,62.4M227.9,62.4L241.5,61.3M227.9,62.4L223.7,71.9M227.9,62.4L236.1,70.6M223.7,71.9L228.4,80.2M228.4,80.2L235.3,83.0M228.4,80.2L224.3,97.4M224.3,97.4L230.8,96.7M224.3,97.4L236.3,110.2M221.8,110.1L236.3,110.2M220.6,119.9L233.2,119.3M220.6,119.9L227.3,129.1M227.3,129.1L237.1,135.1M227.3,129.1L219.0,144.7M219.0,144.7L232.6,145.1M220.2,155.9L234.6,156.1M220.2,155.9L223.6,167.4M223.6,167.4L232.1,170.4M221.7,181.8L235.1,182.2M221.7,181.8L224.2,193.5M224.2,193.5L235.6,191.0M224.2,193.5L224.4,206.6M224.4,206.6L240.9,202.4M224.4,206.6L223.7,212.5M223.7,212.5L236.2,216.1M223.7,212.5L222.8,224.0M223.7,212.5L236.5,223.8M222.8,224.0L236.5,223.8M216.8,238.0L227.3,253.8M216.8,238.0L236.5,254.8M227.3,253.8L236.5,254.8M227.3,253.8L232.1,264.7M217.6,260.6L223.0,277.9M217.6,260.6L238.5,273.0M223.0,277.9L238.5,273.0M223.0,277.9L222.1,290.3M222.1,290.3L233.2,284.1M222.1,290.3L220.1,302.9M220.1,302.9L218.4,312.0M220.1,302.9L233.3,309.7M218.4,312.0L233.3,309.7M218.4,312.0L227.4,324.7M227.4,324.7L218.3,336.2M227.4,324.7L234.8,335.2M218.3,336.2L223.4,343.0M223.4,343.0L233.4,350.0M235.6,-37.4L246.3,-37.0M235.6,-37.4L235.2,-25.7M235.2,-25.7L245.9,-22.1M235.2,-25.7L237.9,-10.4M237.9,-10.4L251.5,-13.2M237.9,-10.4L231.1,-3.0M231.1,-3.0L250.6,3.6M231.1,-3.0L238.7,11.7M238.7,11.7L246.7,22.8M230.7,20.8L246.7,22.8M230.7,20.8L241.0,36.8M230.7,20.8L249.7,34.4M241.0,36.8L232.7,45.4M232.7,45.4L248.5,48.7M241.5,61.3L254.2,63.6M241.5,61.3L236.1,70.6M236.1,70.6L251.4,70.9M236.1,70.6L235.3,83.0M235.3,83.0L253.0,84.9M230.8,96.7L248.8,99.7M230.8,96.7L236.3,110.2M236.3,110.2L246.1,107.3M236.3,110.2L233.2,119.3M233.2,119.3L246.1,120.8M233.2,119.3L237.1,135.1M237.1,135.1L247.5,135.5M237.1,135.1L232.6,145.1M237.1,135.1L244.4,142.5M232.6,145.1L244.4,142.5M232.6,145.1L234.6,156.1M234.6,156.1L246.8,154.6M234.6,156.1L249.2,164.1M232.1,170.4L235.1,182.2M235.1,182.2L247.0,180.6M235.1,182.2L235.6,191.0M235.6,191.0L248.1,193.3M235.6,191.0L240.9,202.4M235.6,191.0L247.8,205.8M240.9,202.4L247.8,205.8M240.9,202.4L236.2,216.1M236.2,216.1L249.1,217.5M236.2,216.1L236.5,223.8M236.5,223.8L246.6,227.0M236.5,223.8L233.3,237.5M233.3,237.5L236.5,254.8M236.5,254.8L232.1,264.7M232.1,264.7L242.7,261.9M232.1,264.7L238.5,273.0M238.5,273.0L250.3,275.3M238.5,273.0L233.2,284.1M233.2,284.1L243.5,289.4M240.6,297.0L248.2,299.1M240.6,297.0L233.3,309.7M233.3,309.7L243.6,311.5M233.3,309.7L239.9,325.7M239.9,325.7L246.7,319.6M239.9,325.7L234.8,335.2M234.8,335.2L247.1,333.2M234.8,335.2L233.4,350.0M233.4,350.0L252.5,344.8M246.3,-37.0L262.2,-39.4M246.3,-37.0L245.9,-22.1M245.9,-22.1L251.5,-13.2M251.5,-13.2L263.5,-12.3M251.5,-13.2L250.6,3.6M250.6,3.6L263.2,-3.2M250.6,3.6L245.7,13.0M250.6,3.6L266.2,9.2M245.7,13.0L266.2,9.2M246.7,22.8L264.2,24.1M246.7,22.8L249.7,34.4M249.7,34.4L248.5,48.7M249.7,34.4L263.3,51.6M248.5,48.7L254.2,63.6M254.2,63.6L262.2,55.9M251.4,70.9L256.9,74.3M251.4,70.9L253.0,84.9M253.0,84.9L265.1,85.4M253.0,84.9L248.8,99.7M248.8,99.7L256.9,95.9M248.8,99.7L246.1,107.3M246.1,107.3L258.8,104.5M246.1,107.3L246.1,120.8M246.1,107.3L258.2,123.3M247.5,135.5L264.3,134.3M247.5,135.5L244.4,142.5M246.8,154.6L259.2,153.6M246.8,154.6L249.2,164.1M249.2,164.1L256.5,170.8M249.2,164.1L247.0,180.6M247.0,180.6L261.5,179.3M247.0,180.6L248.1,193.3M248.1,193.3L247.8,205.8M247.8,205.8L267.0,203.9M247.8,205.8L249.1,217.5M249.1,217.5L260.0,218.5M249.1,217.5L246.6,227.0M246.6,227.0L242.6,242.1M242.6,242.1L262.2,237.3M242.6,242.1L254.0,254.3M254.0,254.3L261.8,250.6M254.0,254.3L242.7,261.9M242.7,261.9L259.8,262.0M242.7,261.9L250.3,275.3M250.3,275.3L262.4,274.7M243.5,289.4L255.9,289.7M248.2,299.1L259.1,299.2M248.2,299.1L243.6,311.5M243.6,311.5L260.4,310.2M243.6,311.5L246.7,319.6M246.7,319.6L260.5,319.7M247.1,333.2L258.8,333.4M247.1,333.2L252.5,344.8M252.5,344.8L262.9,344.7M262.2,-39.4L278.2,-36.0M257.5,-24.3L268.6,-24.7M257.5,-24.3L263.5,-12.3M263.2,-3.2L273.8,3.7M263.2,-3.2L266.2,9.2M266.2,9.2L274.8,12.7M264.2,24.1L271.8,22.3M264.2,24.1L262.2,36.8M264.2,24.1L277.0,36.6M262.2,36.8L277.0,36.6M262.2,36.8L263.3,51.6M262.2,36.8L271.3,47.8M263.3,51.6L271.3,47.8M263.3,51.6L262.2,55.9M262.2,55.9L276.1,61.8M262.2,55.9L256.9,74.3M256.9,74.3L269.0,68.5M256.9,74.3L265.1,85.4M265.1,85.4L273.8,81.9M265.1,85.4L256.9,95.9M265.1,85.4L275.7,95.1M256.9,95.9L275.7,95.1M258.8,104.5L258.2,123.3M258.2,123.3L271.1,121.0M258.2,123.3L264.3,134.3M264.3,134.3L272.3,135.4M264.3,134.3L255.9,142.8M255.9,142.8L276.0,142.1M255.9,142.8L259.2,153.6M259.2,153.6L274.4,158.0M259.2,153.6L256.5,170.8M259.2,153.6L275.6,168.6M256.5,170.8L275.6,168.6M256.5,170.8L261.5,179.3M261.5,179.3L272.0,181.5M261.4,194.5L268.9,192.4M261.4,194.5L267.0,203.9M261.4,194.5L276.5,206.7M267.0,203.9L276.5,206.7M267.0,203.9L260.0,218.5M260.0,218.5L274.2,211.5M262.1,225.6L279.9,229.3M262.1,225.6L262.2,237.3M262.2,237.3L273.7,235.2M262.2,237.3L261.8,250.6M261.8,250.6L259.8,262.0M259.8,262.0L274.6,267.0M259.8,262.0L262.4,274.7M262.4,274.7L279.8,271.7M262.4,274.7L255.9,289.7M259.1,299.2L278.3,298.0M259.1,299.2L260.4,310.2M260.4,310.2L272.5,310.5M260.5,319.7L272.6,321.5M260.5,319.7L258.8,333.4M260.5,319.7L275.1,331.5M258.8,333.4L275.1,331.5M278.2,-36.0L290.5,-35.5M278.2,-36.0L268.6,-24.7M268.6,-24.7L282.5,-27.0M268.6,-24.7L280.2,-15.9M280.2,-15.9L287.3,-8.3M280.2,-15.9L273.8,3.7M273.8,3.7L286.5,3.4M273.8,3.7L274.8,12.7M274.8,12.7L286.4,11.3M274.8,12.7L271.8,22.3M274.8,12.7L286.3,26.6M271.8,22.3L286.3,26.6M277.0,36.6L285.6,38.9M277.0,36.6L271.3,47.8M271.3,47.8L285.8,44.1M271.3,47.8L276.1,61.8M271.3,47.8L288.4,58.8M276.1,61.8L288.4,58.8M276.1,61.8L269.0,68.5M269.0,68.5L287.6,75.2M269.0,68.5L273.8,81.9M273.8,81.9L288.9,85.2M273.8,81.9L275.7,95.1M275.7,95.1L285.0,97.9M275.7,95.1L279.2,106.9M279.2,106.9L285.4,109.6M279.2,106.9L271.1,121.0M279.2,106.9L283.0,120.3M271.1,121.0L283.0,120.3M271.1,121.0L272.3,135.4M272.3,135.4L286.3,130.3M272.3,135.4L276.0,142.1M276.0,142.1L283.0,142.3M276.0,142.1L274.4,158.0M274.4,158.0L289.8,155.6M274.4,158.0L275.6,168.6M275.6,168.6L285.0,168.0M272.0,181.5L292.1,178.3M272.0,181.5L268.9,192.4M272.0,181.5L286.8,191.2M268.9,192.4L286.8,191.2M276.5,206.7L293.3,201.9M276.5,206.7L274.2,211.5M274.2,211.5L279.9,229.3M279.9,229.3L286.9,229.1M279.9,229.3L273.7,235.2M273.7,235.2L286.7,237.3M273.7,235.2L278.1,250.5M278.1,250.5L285.1,253.8M278.1,250.5L274.6,267.0M278.1,250.5L284.9,264.9M274.6,267.0L279.8,271.7M279.8,271.7L288.4,276.0M275.5,286.6L286.5,290.8M275.5,286.6L278.3,298.0M278.3,298.0L292.7,298.6M278.3,298.0L272.5,310.5M272.5,310.5L285.9,308.8M272.5,310.5L272.6,321.5M272.6,321.5L291.3,319.7M272.6,321.5L275.1,331.5M272.6,321.5L284.3,337.7M275.1,331.5L284.3,337.7M275.1,331.5L272.5,349.5M290.5,-35.5L302.6,-35.5M290.5,-35.5L282.5,-27.0M282.5,-27.0L297.5,-26.7M287.3,-8.3L306.1,-9.8M287.3,-8.3L286.5,3.4M286.5,3.4L301.8,-3.2M286.5,3.4L286.4,11.3M286.4,11.3L304.6,9.7M286.3,26.6L296.3,24.2M286.3,26.6L285.6,38.9M286.3,26.6L303.0,32.8M285.6,38.9L303.0,32.8M285.6,38.9L285.8,44.1M285.8,44.1L301.4,48.5M285.8,44.1L288.4,58.8M288.4,58.8L305.6,63.2M288.4,58.8L287.6,75.2M287.6,75.2L300.7,70.7M288.9,85.2L306.1,85.5M288.9,85.2L285.0,97.9M285.0,97.9L297.1,98.5M285.0,97.9L285.4,109.6M285.0,97.9L304.0,105.8M285.4,109.6L304.0,105.8M285.4,109.6L283.0,120.3M283.0,120.3L296.7,115.8M286.3,130.3L302.3,129.6M286.3,130.3L283.0,142.3M283.0,142.3L297.1,141.5M283.0,142.3L289.8,155.6M283.0,142.3L298.7,155.4M289.8,155.6L298.7,155.4M289.8,155.6L285.0,168.0M285.0,168.0L297.0,165.7M285.0,168.0L292.1,178.3M292.1,178.3L300.0,179.5M292.1,178.3L302.4,188.6M286.8,191.2L302.4,188.6M286.8,191.2L293.3,201.9M286.8,191.2L305.2,206.2M293.3,201.9L305.2,206.2M293.3,201.9L287.8,213.1M287.8,213.1L300.0,215.6M286.9,229.1L304.1,227.5M286.9,229.1L286.7,237.3M286.7,237.3L300.4,242.6M286.7,237.3L285.1,253.8M285.1,253.8L304.5,249.2M285.1,253.8L284.9,264.9M285.1,253.8L295.0,266.6M284.9,264.9L295.0,266.6M284.9,264.9L288.4,276.0M286.5,290.8L296.6,286.7M292.7,298.6L300.8,300.8M292.7,298.6L285.9,308.8M285.9,308.8L303.0,311.0M285.9,308.8L291.3,319.7M291.3,319.7L302.6,321.7M291.3,319.7L284.3,337.7M284.3,337.7L284.8,348.4M284.3,337.7L298.5,350.4M284.8,348.4L298.5,350.4M302.6,-35.5L316.4,-39.3M302.6,-35.5L315.6,-27.1M297.5,-26.7L315.6,-27.1M297.5,-26.7L306.1,-9.8M297.5,-26.7L315.6,-15.0M306.1,-9.8L301.8,-3.2M301.8,-3.2L316.4,-1.5M301.8,-3.2L304.6,9.7M304.6,9.7L318.3,8.5M304.6,9.7L296.3,24.2M304.6,9.7L313.5,20.5M296.3,24.2L303.0,32.8M303.0,32.8L310.8,36.4M301.4,48.5L316.3,49.3M301.4,48.5L305.6,63.2M301.4,48.5L318.2,62.1M305.6,63.2L300.7,70.7M305.6,63.2L312.2,68.4M300.7,70.7L312.2,68.4M306.1,85.5L315.2,81.2M306.1,85.5L297.1,98.5M306.1,85.5L312.2,94.5M297.1,98.5L312.2,94.5M297.1,98.5L304.0,105.8M296.7,115.8L313.8,118.9M296.7,115.8L302.3,129.6M296.7,115.8L314.9,128.2M302.3,129.6L314.9,128.2M302.3,129.6L297.1,141.5M297.1,141.5L311.9,144.0M297.1,141.5L298.7,155.4M298.7,155.4L319.3,156.0M298.7,155.4L297.0,165.7M298.7,155.4L308.7,165.8M297.0,165.7L308.7,165.8M297.0,165.7L300.0,179.5M300.0,179.5L313.5,181.0M300.0,179.5L302.4,188.6M302.4,188.6L305.2,206.2M305.2,206.2L319.0,206.7M305.2,206.2L300.0,215.6M300.0,215.6L315.2,218.8M300.0,215.6L304.1,227.5M304.1,227.5L310.7,227.2M304.1,227.5L300.4,242.6M300.4,242.6L304.5,249.2M304.5,249.2L316.0,252.1M304.5,249.2L295.0,266.6M295.0,266.6L315.9,259.8M300.8,277.4L315.2,278.8M300.8,277.4L296.6,286.7M296.6,286.7L300.8,300.8M300.8,300.8L303.0,311.0M303.0,311.0L307.7,307.2M303.0,311.0L302.6,321.7M302.6,321.7L318.0,324.4M302.6,321.7L296.6,338.5M296.6,338.5L298.5,350.4M298.5,350.4L317.3,349.3M316.4,-39.3L323.5,-39.3M316.4,-39.3L315.6,-27.1M316.4,-39.3L327.6,-20.1M315.6,-27.1L327.6,-20.1M315.6,-27.1L315.6,-15.0M315.6,-15.0L331.0,-12.7M315.6,-15.0L316.4,-1.5M315.6,-15.0L323.5,-1.2M318.3,8.5L323.6,14.1M318.3,8.5L313.5,20.5M313.5,20.5L310.8,36.4M313.5,20.5L328.2,34.6M310.8,36.4L328.2,34.6M310.8,36.4L316.3,49.3M316.3,49.3L326.6,47.5M318.2,62.1L325.6,62.9M312.2,68.4L322.1,69.0M312.2,68.4L315.2,81.2M315.2,81.2L325.8,83.6M315.2,81.2L312.2,94.5M312.2,94.5L327.6,94.3M312.2,94.5L315.0,105.2M312.2,94.5L325.6,108.9M315.0,105.2L325.6,108.9M313.8,118.9L322.8,119.8M313.8,118.9L314.9,128.2M314.9,128.2L325.8,134.6M314.9,128.2L311.9,144.0M314.9,128.2L322.2,141.4M311.9,144.0L322.2,141.4M311.9,144.0L319.3,156.0M319.3,156.0L326.2,154.1M319.3,156.0L308.7,165.8M308.7,165.8L327.0,168.8M308.7,165.8L313.5,181.0M313.5,181.0L330.6,179.7M313.5,181.0L315.9,195.2M313.5,181.0L321.2,193.5M315.9,195.2L321.2,193.5M315.9,195.2L319.0,206.7M315.9,195.2L325.7,201.1M319.0,206.7L325.7,201.1M315.2,218.8L324.2,219.2M315.2,218.8L310.7,227.2M310.7,227.2L326.8,226.1M310.7,227.2L312.8,240.7M312.8,240.7L328.7,243.1M312.8,240.7L316.0,252.1M316.0,252.1L315.9,259.8M315.9,259.8L327.6,265.4M315.9,259.8L315.2,278.8M315.2,278.8L326.5,277.4M315.2,278.8L307.8,283.9M307.8,283.9L323.9,285.3M307.8,283.9L318.3,302.7M307.8,283.9L328.8,300.9M318.3,302.7L328.8,300.9M318.3,302.7L307.7,307.2M318.0,324.4L323.6,322.9M318.0,324.4L323.9,331.4M312.2,335.5L323.9,331.4M312.2,335.5L317.3,349.3M317.3,349.3L331.7,344.0M323.5,-39.3L338.4,-32.9M327.6,-20.1L342.1,-20.5M327.6,-20.1L331.0,-12.7M331.0,-12.7L339.6,-8.5M323.5,-1.2L334.8,1.7M323.5,-1.2L323.6,14.1M322.9,24.6L334.7,25.3M322.9,24.6L328.2,34.6M328.2,34.6L344.4,37.7M328.2,34.6L326.6,47.5M326.6,47.5L342.0,47.5M326.6,47.5L325.6,62.9M325.6,62.9L339.9,56.8M325.6,62.9L322.1,69.0M322.1,69.0L336.0,75.3M325.8,83.6L337.1,81.2M327.6,94.3L336.6,92.1M327.6,94.3L325.6,108.9M325.6,108.9L322.8,119.8M322.8,119.8L325.8,134.6M322.8,119.8L341.4,132.1M325.8,134.6L322.2,141.4M322.2,141.4L326.2,154.1M322.2,141.4L345.0,152.1M327.0,168.8L335.5,164.1M327.0,168.8L330.6,179.7M330.6,179.7L339.3,181.5M321.2,193.5L341.8,191.4M321.2,193.5L325.7,201.1M325.7,201.1L324.2,219.2M324.2,219.2L338.6,213.6M324.2,219.2L326.8,226.1M326.8,226.1L343.6,231.0M326.8,226.1L328.7,243.1M328.7,243.1L337.6,240.0M328.7,243.1L327.0,248.2M327.0,248.2L327.6,265.4M327.6,265.4L335.2,266.7M327.6,265.4L326.5,277.4M327.6,265.4L345.3,271.3M326.5,277.4L345.3,271.3M326.5,277.4L323.9,285.3M323.9,285.3L340.4,286.2M323.9,285.3L328.8,300.9M328.8,300.9L337.0,296.3M328.8,300.9L324.8,313.5M324.8,313.5L323.6,322.9M323.6,322.9L338.4,319.1M323.6,322.9L323.9,331.4M323.9,331.4L335.5,337.3M323.9,331.4L331.7,344.0M331.7,344.0L341.0,348.1M338.4,-32.9L353.7,-38.4M338.4,-32.9L342.1,-20.5M342.1,-20.5L346.6,-25.5M342.1,-20.5L339.6,-8.5M339.6,-8.5L349.9,-13.9M339.6,-8.5L334.8,1.7M334.8,1.7L352.1,-1.0M334.8,1.7L345.0,9.5M345.0,9.5L353.8,13.0M345.0,9.5L334.7,25.3M334.7,25.3L349.4,22.8M334.7,25.3L357.5,36.5M344.4,37.7L342.0,47.5M342.0,47.5L350.3,48.2M342.0,47.5L339.9,56.8M342.0,47.5L353.6,58.5M339.9,56.8L353.6,58.5M339.9,56.8L336.0,75.3M336.0,75.3L354.7,69.6M337.1,81.2L357.9,86.5M337.1,81.2L336.6,92.1M336.6,92.1L339.3,105.1M336.6,92.1L354.1,111.5M339.3,105.1L354.1,111.5M339.3,105.1L334.6,119.8M334.6,119.8L349.1,117.0M334.6,119.8L341.4,132.1M341.4,132.1L356.0,129.4M341.4,132.1L340.4,143.7M340.4,143.7L351.8,140.8M340.4,143.7L345.0,152.1M345.0,152.1L358.0,153.8M335.5,164.1L347.4,168.9M335.5,164.1L339.3,181.5M339.3,181.5L341.8,191.4M339.3,181.5L351.0,194.7M341.8,191.4L351.0,194.7M341.8,191.4L337.9,202.0M337.9,202.0L338.6,213.6M338.6,213.6L346.5,215.3M338.6,213.6L343.6,231.0M343.6,231.0L351.9,227.8M343.6,231.0L337.6,240.0M337.6,240.0L352.2,238.9M337.6,240.0L344.1,250.9M344.1,250.9L335.2,266.7M335.2,266.7L350.8,264.3M345.3,271.3L358.2,273.3M345.3,271.3L340.4,286.2M340.4,286.2L350.5,283.7M340.4,286.2L337.0,296.3M337.0,296.3L356.7,296.9M337.0,296.3L335.1,312.9M335.1,312.9L354.0,313.3M335.1,312.9L338.4,319.1M338.4,319.1L351.8,326.1M338.4,319.1L335.5,337.3M335.5,337.3L351.0,334.3M335.5,337.3L341.0,348.1M335.5,337.3L354.5,350.4M341.0,348.1L354.5,350.4M353.7,-38.4L366.9,-36.0M353.7,-38.4L346.6,-25.5M346.6,-25.5L349.9,-13.9M349.9,-13.9L367.0,-13.2M349.9,-13.9L352.1,-1.0M352.1,-1.0L361.3,-2.3M352.1,-1.0L353.8,13.0M353.8,13.0L370.0,14.4M349.4,22.8L368.3,27.3M357.5,36.5L368.7,38.3M350.3,48.2L365.9,50.3M353.6,58.5L369.7,57.2M354.7,69.6L366.8,70.2M354.7,69.6L357.9,86.5M357.9,86.5L364.7,87.1M357.9,86.5L354.4,93.0M357.9,86.5L359.7,95.8M354.4,93.0L354.1,111.5M354.4,93.0L365.6,110.0M354.1,111.5L365.6,110.0M354.1,111.5L349.1,117.0M349.1,117.0L365.0,122.9M349.1,117.0L356.0,129.4M356.0,129.4L370.9,132.7M356.0,129.4L351.8,140.8M351.8,140.8L360.1,144.9M358.0,153.8L363.5,159.3M358.0,153.8L347.4,168.9M358.0,153.8L367.3,165.9M347.4,168.9L367.3,165.9M352.6,179.9L364.2,181.0M351.0,194.7L366.3,195.2M351.0,194.7L354.1,202.4M354.1,202.4L368.1,200.3M354.1,202.4L346.5,215.3M346.5,215.3L366.0,211.7M346.5,215.3L351.9,227.8M351.9,227.8L370.3,229.4M351.9,227.8L352.2,238.9M351.9,227.8L366.6,242.2M352.2,238.9L366.6,242.2M352.2,238.9L350.3,251.1M350.3,251.1L367.6,254.7M350.3,251.1L350.8,264.3M350.8,264.3L365.3,263.1M350.8,264.3L358.2,273.3M358.2,273.3L366.0,273.9M350.5,283.7L359.7,284.3M350.5,283.7L369.7,296.8M356.7,296.9L369.7,296.8M356.7,296.9L354.0,313.3M354.0,313.3L365.4,313.2M354.0,313.3L351.8,326.1M354.0,313.3L368.8,323.0M351.8,326.1L368.8,323.0M351.8,326.1L351.0,334.3M351.0,334.3L362.3,333.1M351.0,334.3L354.5,350.4M354.5,350.4L364.2,348.0M366.9,-36.0L381.7,-32.3M362.1,-21.2L375.5,-20.5M362.1,-21.2L367.0,-13.2M362.1,-21.2L383.7,-13.6M367.0,-13.2L361.3,-2.3M367.0,-13.2L381.1,1.0M361.3,-2.3L381.1,1.0M361.3,-2.3L370.0,14.4M370.0,14.4L384.2,14.2M370.0,14.4L368.3,27.3M368.3,27.3L368.7,38.3M368.7,38.3L380.2,35.8M368.7,38.3L365.9,50.3M365.9,50.3L372.8,50.7M365.9,50.3L369.7,57.2M369.7,57.2L380.3,59.6M369.7,57.2L366.8,70.2M366.8,70.2L379.2,69.8M366.8,70.2L377.3,84.4M364.7,87.1L377.3,84.4M364.7,87.1L359.7,95.8M359.7,95.8L374.7,94.3M359.7,95.8L365.6,110.0M359.7,95.8L376.1,104.1M365.6,110.0L376.1,104.1M365.6,110.0L365.0,122.9M365.0,122.9L375.7,119.8M365.0,122.9L370.9,132.7M365.0,122.9L384.0,132.7M370.9,132.7L384.0,132.7M370.9,132.7L376.2,142.8M360.1,144.9L376.2,142.8M363.5,159.3L377.6,155.3M363.5,159.3L381.1,164.4M364.2,181.0L366.3,195.2M366.3,195.2L368.1,200.3M366.3,195.2L381.3,206.8M368.1,200.3L381.3,206.8M368.1,200.3L366.0,211.7M366.0,211.7L380.6,213.3M370.3,229.4L380.4,231.2M370.3,229.4L366.6,242.2M366.6,242.2L377.2,236.7M366.6,242.2L367.6,254.7M367.6,254.7L382.4,247.6M367.6,254.7L365.3,263.1M365.3,263.1L373.9,263.5M365.3,263.1L366.0,273.9M366.0,273.9L378.0,276.8M366.0,273.9L359.7,284.3M359.7,284.3L379.0,285.6M359.7,284.3L369.7,296.8M365.4,313.2L378.9,310.6M368.8,323.0L376.8,338.5M362.3,333.1L376.8,338.5M362.3,333.1L364.2,348.0M364.2,348.0L383.5,343.3M381.7,-32.3L389.1,-37.7M381.7,-32.3L375.5,-20.5M381.7,-32.3L391.8,-24.4M375.5,-20.5L391.8,-24.4M375.5,-20.5L383.7,-13.6M383.7,-13.6L389.7,-12.6M383.7,-13.6L381.1,1.0M384.2,14.2L392.1,13.2M384.2,14.2L375.5,22.2M375.5,22.2L391.6,24.8M375.5,22.2L388.9,37.6M380.2,35.8L388.9,37.6M380.2,35.8L372.8,50.7M372.8,50.7L386.7,44.3M372.8,50.7L380.3,59.6M380.3,59.6L379.2,69.8M379.2,69.8L386.2,70.9M379.2,69.8L377.3,84.4M377.3,84.4L392.7,80.6M377.3,84.4L374.7,94.3M374.7,94.3L394.1,98.5M374.7,94.3L376.1,104.1M375.7,119.8L388.3,123.5M375.7,119.8L384.0,132.7M384.0,132.7L389.6,130.0M376.2,142.8L387.5,146.4M377.6,155.3L393.1,154.8M377.6,155.3L381.1,164.4M381.1,164.4L389.1,170.5M381.1,164.4L379.4,180.9M379.4,180.9L379.4,191.8M379.4,191.8L391.9,190.9M381.3,206.8L389.6,213.8M380.6,213.3L389.6,213.8M380.6,213.3L380.4,231.2M380.4,231.2L394.1,226.5M380.4,231.2L377.2,236.7M377.2,236.7L388.2,241.4M377.2,236.7L382.4,247.6M382.4,247.6L392.6,250.9M382.4,247.6L373.9,263.5M373.9,263.5L378.0,276.8M378.0,276.8L391.9,278.3M379.0,285.6L394.3,289.3M379.0,285.6L382.4,300.2M382.4,300.2L392.1,300.4M382.4,300.2L392.2,309.3M378.9,310.6L392.2,309.3M379.4,319.8L376.8,338.5M379.4,319.8L391.4,336.2M376.8,338.5L391.4,336.2M376.8,338.5L383.5,343.3M389.1,-37.7L403.5,-33.7M389.1,-37.7L403.4,-20.1M391.8,-24.4L403.4,-20.1M391.8,-24.4L389.7,-12.6M391.8,-24.4L404.6,-10.3M389.7,-12.6L404.6,-10.3M390.7,2.0L398.7,-0.7M392.1,13.2L408.4,10.0M392.1,13.2L391.6,24.8M391.6,24.8L404.0,21.7M391.6,24.8L388.9,37.6M388.9,37.6L405.1,39.8M388.9,37.6L386.7,44.3M386.7,44.3L400.3,51.1M386.7,44.3L392.8,55.9M386.7,44.3L402.0,60.5M392.8,55.9L402.0,60.5M392.8,55.9L386.2,70.9M386.2,70.9L405.9,74.5M386.2,70.9L392.7,80.6M386.2,70.9L405.0,84.4M392.7,80.6L405.0,84.4M392.7,80.6L394.1,98.5M392.7,80.6L404.9,97.8M394.1,98.5L404.9,97.8M392.9,108.3L408.2,108.3M392.9,108.3L388.3,123.5M392.9,108.3L400.8,121.2M388.3,123.5L389.6,130.0M389.6,130.0L387.5,146.4M387.5,146.4L407.4,140.6M387.5,146.4L393.1,154.8M393.1,154.8L408.5,154.1M393.1,154.8L389.1,170.5M393.1,154.8L405.0,171.0M389.1,170.5L405.0,171.0M389.1,170.5L390.8,181.7M390.8,181.7L404.0,179.9M390.8,181.7L391.9,190.9M391.9,190.9L403.3,191.3M391.9,190.9L391.8,202.8M391.8,202.8L403.0,204.3M391.8,202.8L389.6,213.8M389.6,213.8L406.5,216.6M394.1,226.5L404.1,229.7M394.1,226.5L388.2,241.4M388.2,241.4L402.3,236.4M388.2,241.4L392.6,250.9M392.6,250.9L407.0,250.8M392.6,250.9L393.4,262.8M393.4,262.8L403.3,267.0M393.4,262.8L391.9,278.3M391.9,278.3L394.3,289.3M394.3,289.3L401.7,289.1M394.3,289.3L392.1,300.4M392.1,300.4L402.2,297.4M392.1,300.4L392.2,309.3M392.2,309.3L404.7,312.5M392.2,309.3L395.0,326.5M395.0,326.5L409.0,322.0M395.0,326.5L391.4,336.2M391.4,336.2L401.0,333.7M391.4,336.2L392.4,348.1M392.4,348.1L406.3,343.0M403.5,-33.7L403.4,-20.1M403.4,-20.1L404.6,-10.3M404.6,-10.3L398.7,-0.7M398.7,-0.7L413.7,-2.6M398.7,-0.7L408.4,10.0M408.4,10.0L415.6,8.6M404.0,21.7L418.6,25.8M404.0,21.7L405.1,39.8M405.1,39.8L416.9,35.8M405.1,39.8L400.3,51.1M400.3,51.1L417.8,44.1M402.0,60.5L421.9,62.7M402.0,60.5L405.9,74.5M405.9,74.5L413.4,73.4M405.9,74.5L405.0,84.4M405.0,84.4L420.8,82.4M405.0,84.4L404.9,97.8M404.9,97.8L419.4,93.4M404.9,97.8L408.2,108.3M408.2,108.3L418.8,106.1M408.2,108.3L400.8,121.2M400.8,121.2L415.5,122.1M406.6,131.9L419.6,132.4M406.6,131.9L407.4,140.6M407.4,140.6L420.4,141.3M408.5,154.1L416.5,156.4M408.5,154.1L405.0,171.0M405.0,171.0L412.9,171.2M405.0,171.0L404.0,179.9M404.0,179.9L417.6,178.9M404.0,179.9L403.3,191.3M403.3,191.3L415.4,194.0M403.3,191.3L403.0,204.3M403.0,204.3L422.7,204.7M403.0,204.3L406.5,216.6M406.5,216.6L413.0,214.1M406.5,216.6L404.1,229.7M404.1,229.7L420.9,225.0M404.1,229.7L402.3,236.4M402.3,236.4L407.0,250.8M407.0,250.8L416.5,250.1M407.0,250.8L403.3,267.0M403.3,267.0L406.6,278.7M406.6,278.7L414.9,276.6M406.6,278.7L412.1,289.8M401.7,289.1L402.2,297.4M402.2,297.4L419.4,299.7M402.2,297.4L404.7,312.5M404.7,312.5L412.4,307.3M404.7,312.5L409.0,322.0M409.0,322.0L417.7,326.8M409.0,322.0L401.0,333.7M401.0,333.7L406.3,343.0M406.3,343.0L415.1,343.7M417.9,-34.6L427.7,-34.3M417.9,-34.6L412.8,-25.4M412.8,-25.4L426.1,-25.7M412.8,-25.4L422.4,-8.5M422.4,-8.5L433.5,-10.4M422.4,-8.5L413.7,-2.6M415.6,8.6L430.1,12.5M415.6,8.6L418.6,25.8M418.6,25.8L427.7,22.8M418.6,25.8L416.9,35.8M416.9,35.8L417.8,44.1M417.8,44.1L421.9,62.7M421.9,62.7L413.4,73.4M413.4,73.4L420.8,82.4M420.8,82.4L435.1,83.5M419.4,93.4L429.1,94.2M419.4,93.4L418.8,106.1M418.8,106.1L435.5,109.7M418.8,106.1L415.5,122.1M415.5,122.1L430.1,120.9M419.6,132.4L433.7,131.6M419.6,132.4L420.4,141.3M420.4,141.3L428.2,142.6M420.4,141.3L416.5,156.4M416.5,156.4L432.0,155.2M416.5,156.4L412.9,171.2M412.9,171.2L429.3,167.7M412.9,171.2L417.6,178.9M417.6,178.9L434.6,182.5M417.6,178.9L415.4,194.0M415.4,194.0L426.5,187.5M415.4,194.0L422.7,204.7M422.7,204.7L430.2,199.6M422.7,204.7L413.0,214.1M422.7,204.7L431.7,216.2M413.0,214.1L431.7,216.2M420.9,225.0L430.1,224.8M420.9,225.0L419.4,242.2M420.9,225.0L432.3,241.9M419.4,242.2L432.3,241.9M416.5,250.1L433.7,252.7M413.6,264.9L431.2,262.8M413.6,264.9L414.9,276.6M414.9,276.6L431.1,275.5M412.1,289.8L432.4,291.0M412.1,289.8L419.4,299.7M419.4,299.7L435.8,301.7M419.4,299.7L412.4,307.3M412.4,307.3L425.2,308.9M412.4,307.3L417.7,326.8M417.7,326.8L416.9,337.8M416.9,337.8L429.1,333.4M416.9,337.8L415.1,343.7M426.1,-25.7L446.4,-27.8M426.1,-25.7L433.5,-10.4M433.5,-10.4L427.4,-0.3M427.4,-0.3L430.1,12.5M430.1,12.5L445.6,15.5M430.1,12.5L427.7,22.8M427.7,22.8L441.4,26.0M427.7,22.8L429.7,34.2M429.7,34.2L445.8,36.5M429.7,34.2L426.8,44.0M426.8,44.0L439.1,47.6M426.8,44.0L430.3,60.5M430.3,60.5L448.6,61.2M426.9,68.7L439.5,71.3M426.9,68.7L435.1,83.5M426.9,68.7L445.4,82.4M435.1,83.5L445.4,82.4M435.1,83.5L429.1,94.2M435.1,83.5L442.7,96.7M429.1,94.2L435.5,109.7M435.5,109.7L440.7,105.4M435.5,109.7L430.1,120.9M430.1,120.9L433.7,131.6M433.7,131.6L441.2,133.7M433.7,131.6L428.2,142.6M428.2,142.6L440.5,147.2M428.2,142.6L432.0,155.2M432.0,155.2L429.3,167.7M429.3,167.7L443.2,165.5M429.3,167.7L434.6,182.5M429.3,167.7L447.8,181.2M434.6,182.5L447.8,181.2M426.5,187.5L444.3,187.8M426.5,187.5L430.2,199.6M430.2,199.6L431.7,216.2M431.7,216.2L438.8,212.9M430.1,224.8L440.8,224.5M430.1,224.8L432.3,241.9M432.3,241.9L441.8,242.9M432.3,241.9L433.7,252.7M433.7,252.7L443.4,249.2M433.7,252.7L431.2,262.8M431.2,262.8L445.0,260.6M431.2,262.8L431.1,275.5M431.1,275.5L446.2,276.0M431.1,275.5L432.4,291.0M432.4,291.0L445.9,283.4M432.4,291.0L435.8,301.7M435.8,301.7L445.6,298.1M435.8,301.7L425.2,308.9M425.2,308.9L444.9,309.0M436.2,323.3L429.1,333.4M429.1,333.4L442.0,338.6M429.1,333.4L435.3,347.0M435.3,347.0L442.7,345.1M449.4,-39.3L461.8,-34.5M449.4,-39.3L446.4,-27.8M446.4,-27.8L451.1,-26.4M441.8,-12.8L455.6,-13.6M441.8,-12.8L443.3,-3.1M443.3,-3.1L458.1,1.6M443.3,-3.1L445.6,15.5M445.6,15.5L462.3,13.3M445.6,15.5L441.4,26.0M445.6,15.5L456.2,23.0M441.4,26.0L456.2,23.0M441.4,26.0L460.0,35.8M445.8,36.5L460.0,35.8M439.1,47.6L451.0,47.8M439.1,47.6L448.6,61.2M448.6,61.2L439.5,71.3M448.6,61.2L450.9,68.0M439.5,71.3L450.9,68.0M439.5,71.3L445.4,82.4M445.4,82.4L442.7,96.7M442.7,96.7L453.5,92.9M442.7,96.7L440.7,105.4M442.7,96.7L458.8,111.0M440.7,105.4L458.8,111.0M440.7,105.4L443.4,117.3M443.4,117.3L452.1,119.6M441.2,133.7L458.0,133.7M441.2,133.7L440.5,147.2M440.5,147.2L445.5,152.3M445.5,152.3L443.2,165.5M443.2,165.5L447.8,181.2M447.8,181.2L453.8,176.9M447.8,181.2L444.3,187.8M447.8,181.2L454.7,194.1M444.3,187.8L454.7,194.1M444.3,187.8L440.8,205.7M440.8,205.7L438.8,212.9M438.8,212.9L457.3,217.1M438.8,212.9L440.8,224.5M440.8,224.5L454.0,229.8M440.8,224.5L441.8,242.9M441.8,242.9L451.8,236.5M441.8,242.9L443.4,249.2M443.4,249.2L453.8,247.4M443.4,249.2L445.0,260.6M445.0,260.6L458.4,262.2M445.0,260.6L446.2,276.0M445.0,260.6L454.3,271.5M446.2,276.0L454.3,271.5M446.2,276.0L445.9,283.4M445.9,283.4L458.1,287.9M445.9,283.4L445.6,298.1M445.6,298.1L461.7,295.3M445.6,298.1L444.9,309.0M444.9,309.0L451.5,309.3M444.9,309.0L446.9,320.4M446.9,320.4L455.2,319.8M446.9,320.4L442.0,338.6M442.0,338.6L452.3,336.0M442.0,338.6L442.7,345.1M442.0,338.6L455.0,344.2M442.7,345.1L455.0,344.2M461.8,-34.5L471.3,-36.9M451.1,-26.4L464.8,-23.4M451.1,-26.4L455.6,-13.6M455.6,-13.6L471.1,-12.9M455.6,-13.6L458.1,1.6M458.1,1.6L467.8,-3.7M458.1,1.6L462.3,13.3M458.1,1.6L472.0,9.5M462.3,13.3L456.2,23.0M456.2,23.0L460.0,35.8M456.2,23.0L474.5,36.6M460.0,35.8L474.5,36.6M460.0,35.8L451.0,47.8M451.0,47.8L467.0,48.2M451.0,47.8L457.0,60.0M457.0,60.0L475.0,56.9M457.0,60.0L450.9,68.0M450.9,68.0L462.3,82.7M462.3,82.7L469.8,85.4M462.3,82.7L453.5,92.9M453.5,92.9L458.8,111.0M458.8,111.0L469.1,106.0M458.8,111.0L452.1,119.6M452.1,119.6L470.3,121.9M452.1,119.6L458.0,133.7M452.1,119.6L472.8,135.0M458.0,133.7L455.6,141.4M455.6,141.4L455.2,157.3M455.2,157.3L474.2,157.6M455.2,157.3L451.2,170.4M451.2,170.4L464.5,171.3M451.2,170.4L453.8,176.9M453.8,176.9L473.2,182.3M454.7,194.1L466.8,192.2M454.7,194.1L459.1,205.3M459.1,205.3L475.1,206.5M459.1,205.3L457.3,217.1M457.3,217.1L468.7,218.4M457.3,217.1L454.0,229.8M454.0,229.8L475.5,230.0M454.0,229.8L451.8,236.5M451.8,236.5L469.4,242.9M453.8,247.4L467.8,250.4M453.8,247.4L458.4,262.2M458.4,262.2L468.6,260.2M458.4,262.2L454.3,271.5M454.3,271.5L458.1,287.9M458.1,287.9L469.2,285.3M458.1,287.9L461.7,295.3M458.1,287.9L469.4,299.9M451.5,309.3L465.2,310.5M451.5,309.3L455.2,319.8M455.2,319.8L474.2,326.8M455.2,319.8L452.3,336.0M452.3,336.0L465.9,333.8M452.3,336.0L455.0,344.2M455.0,344.2L472.7,344.4M471.3,-36.9L487.1,-38.3M471.3,-36.9L464.8,-23.4M464.8,-23.4L481.5,-25.2M464.8,-23.4L471.1,-12.9M464.8,-23.4L479.5,-16.0M471.1,-12.9L479.5,-16.0M471.1,-12.9L467.8,-3.7M467.8,-3.7L476.5,-1.4M467.8,-3.7L472.0,9.5M472.0,9.5L482.0,15.9M472.0,9.5L466.5,20.0M466.5,20.0L482.2,20.4M466.5,20.0L474.5,36.6M466.5,20.0L485.9,33.7M474.5,36.6L485.9,33.7M474.5,36.6L467.0,48.2M467.0,48.2L480.8,49.6M467.0,48.2L475.0,56.9M475.0,56.9L487.2,63.3M475.0,56.9L467.0,73.4M467.0,73.4L480.3,70.3M467.0,73.4L483.1,82.2M469.8,85.4L483.1,82.2M469.8,85.4L471.7,92.0M471.7,92.0L483.2,95.4M471.7,92.0L469.1,106.0M469.1,106.0L485.7,104.9M469.1,106.0L470.3,121.9M470.3,121.9L483.5,123.3M472.8,135.0L481.3,132.5M472.8,135.0L465.2,142.7M465.2,142.7L474.2,157.6M474.2,157.6L483.2,152.9M474.2,157.6L464.5,171.3M474.2,157.6L483.1,168.0M464.5,171.3L483.1,168.0M464.5,171.3L473.2,182.3M473.2,182.3L485.6,183.1M473.2,182.3L466.8,192.2M466.8,192.2L477.0,188.1M475.1,206.5L468.7,218.4M468.7,218.4L483.9,216.8M468.7,218.4L475.5,230.0M475.5,230.0L484.4,230.1M475.5,230.0L469.4,242.9M467.8,250.4L485.3,247.4M467.8,250.4L468.6,260.2M467.8,250.4L478.6,259.4M468.6,260.2L473.5,271.6M473.5,271.6L481.0,271.6M469.2,285.3L481.3,284.1M469.2,285.3L469.4,299.9M469.4,299.9L484.9,301.6M465.2,310.5L479.6,307.9M465.2,310.5L474.2,326.8M474.2,326.8L485.5,324.7M474.2,326.8L465.9,333.8M465.9,333.8L484.5,335.3M465.9,333.8L472.7,344.4M487.1,-38.3L498.6,-32.1M487.1,-38.3L481.5,-25.2M481.5,-25.2L492.1,-21.7M481.5,-25.2L479.5,-16.0M479.5,-16.0L498.2,-12.2M476.5,-1.4L489.6,-0.2M476.5,-1.4L482.0,15.9M482.0,15.9L494.9,12.8M482.0,15.9L482.2,20.4M482.0,15.9L494.1,24.0M482.2,20.4L494.1,24.0M482.2,20.4L485.9,33.7M485.9,33.7L480.8,49.6M480.8,49.6L495.0,49.3M487.2,63.3L501.4,62.1M487.2,63.3L480.3,70.3M480.3,70.3L492.1,71.4M480.3,70.3L483.1,82.2M483.1,82.2L497.1,86.2M483.1,82.2L483.2,95.4M483.1,82.2L493.1,99.0M483.2,95.4L493.1,99.0M483.2,95.4L485.7,104.9M485.7,104.9L496.9,106.8M485.7,104.9L483.5,123.3M483.5,123.3L493.8,118.5M483.5,123.3L481.3,132.5M481.3,132.5L478.0,139.8M478.0,139.8L493.1,140.2M478.0,139.8L483.2,152.9M483.2,152.9L498.6,152.7M483.2,152.9L483.1,168.0M483.1,168.0L490.8,166.8M483.1,168.0L485.6,183.1M483.1,168.0L497.9,181.5M485.6,183.1L497.9,181.5M485.6,183.1L477.0,188.1M477.0,188.1L493.5,189.7M477.0,188.1L479.8,203.0M479.8,203.0L495.8,206.4M483.9,216.8L491.4,211.4M483.9,216.8L484.4,230.1M484.4,230.1L500.5,227.1M484.4,230.1L479.8,236.1M479.8,236.1L490.7,236.3M479.8,236.1L485.3,247.4M485.3,247.4L500.5,253.2M485.3,247.4L478.6,259.4M485.3,247.4L490.1,264.5M478.6,259.4L490.1,264.5M478.6,259.4L481.0,271.6M481.0,271.6L494.4,274.6M481.3,284.1L494.9,283.4M481.3,284.1L484.9,301.6M484.9,301.6L500.9,297.7M484.9,301.6L479.6,307.9M484.9,301.6L490.8,313.2M479.6,307.9L490.8,313.2M485.5,324.7L493.5,319.2M485.5,324.7L484.5,335.3M485.5,324.7L495.4,334.6M484.5,335.3L484.7,349.7M484.7,349.7L500.6,349.2M498.6,-32.1L507.4,-39.5M498.6,-32.1L507.9,-24.2M492.1,-21.7L507.9,-24.2M492.1,-21.7L498.2,-12.2M498.2,-12.2L508.2,-8.6M498.2,-12.2L489.6,-0.2M498.2,-12.2L504.4,1.1M489.6,-0.2L504.4,1.1M489.6,-0.2L494.9,12.8M494.9,12.8L506.2,15.3M494.9,12.8L494.1,24.0M494.1,24.0L511.0,24.9M493.0,32.9L508.4,37.7M493.0,32.9L495.0,49.3M495.0,49.3L501.4,62.1M501.4,62.1L492.1,71.4M492.1,71.4L503.8,72.1M492.1,71.4L497.1,86.2M497.1,86.2L514.1,86.6M497.1,86.2L493.1,99.0M493.1,99.0L504.7,96.1M493.1,99.0L496.9,106.8M496.9,106.8L493.8,118.5M493.8,118.5L501.5,127.9M501.5,127.9L508.5,130.9M501.5,127.9L493.1,140.2M493.1,140.2L508.8,145.3M493.1,140.2L498.6,152.7M498.6,152.7L509.7,152.4M490.8,166.8L503.4,164.8M490.8,166.8L497.9,181.5M497.9,181.5L512.9,179.4M497.9,181.5L493.5,189.7M493.5,189.7L508.3,190.3M493.5,189.7L495.8,206.4M495.8,206.4L508.8,200.7M495.8,206.4L491.4,211.4M495.8,206.4L511.3,216.1M491.4,211.4L511.3,216.1M491.4,211.4L500.5,227.1M500.5,227.1L506.7,228.9M500.5,227.1L490.7,236.3M490.7,236.3L507.9,240.1M490.7,236.3L500.5,253.2M500.5,253.2L512.4,252.0M490.1,264.5L510.4,266.9M490.1,264.5L494.4,274.6M490.1,264.5L509.2,276.3M494.4,274.6L509.2,276.3M494.4,274.6L494.9,283.4M494.4,274.6L505.9,286.3M494.9,283.4L505.9,286.3M494.9,283.4L508.8,300.2M500.9,297.7L508.8,300.2M490.8,313.2L505.7,309.8M490.8,313.2L493.5,319.2M493.5,319.2L513.1,325.3M493.5,319.2L495.4,334.6M500.6,349.2L509.0,348.0M507.4,-39.5L507.9,-24.2M507.9,-24.2L508.2,-8.6M508.2,-8.6L504.4,1.1M504.4,1.1L506.2,15.3M506.2,15.3L511.0,24.9M511.0,24.9L508.4,37.7M508.4,37.7L510.6,50.2M510.6,50.2L505.9,59.8M505.9,59.8L503.8,72.1M503.8,72.1L514.1,86.6M514.1,86.6L504.7,96.1M504.7,96.1L508.4,105.0M508.4,105.0L509.2,121.7M509.2,121.7L508.5,130.9M508.5,130.9L508.8,145.3M508.8,145.3L509.7,152.4M509.7,152.4L503.4,164.8M508.3,190.3L508.8,200.7M511.3,216.1L506.7,228.9M506.7,228.9L507.9,240.1M507.9,240.1L512.4,252.0M512.4,252.0L510.4,266.9M510.4,266.9L509.2,276.3M505.9,286.3L508.8,300.2M508.8,300.2L505.7,309.8M505.7,309.8L513.1,325.3M508.6,337.6L509.0,348.0" stroke="#8a2c5e" stroke-width="2" fill="none" opacity="0.5" transform="rotate(-14 200 50)"/></g>
<rect x="143.6" y="48.3" width="311.4" height="50" fill="url(#gpanel)"/>
<path d="M125.5,0 L171.6,0 L166.5,10.2 L161.3,16.2 L168.2,17 L166.5,23.9 L156.2,28.1 L139.2,31.6 L134,39.2 L132.3,51.2 L125.5,64.8 L115.3,73.3 L106.8,75 L105,75 L106.8,68.2 L111.9,56.3 L115.3,44.3 L122.1,32.4 L125.5,23.9 L130.6,10.2 Z" fill="#3b1c9c"/>
<path d="M82.9,22.2 L91.4,17.1 L101.6,10.2 L105,6.8 L106.8,11.9 L98.2,18.8 L88,25.6 L84.6,29 Z" fill="#3b1c9c"/>
<path d="M76,27 L81,27 L81,37.5 L76,37.5 Z M71,41 L79.5,41 L79.5,46 L71,46 Z M88,80 L100,80 L100,85.3 L88,85.3 Z" fill="#3b1c9c"/>
<path d="M192.8,33.3 L197.9,20.5 L207.3,25.6 L216.7,30.7 L219.2,36.7 L217.5,44.3 L209,47.8 L197,44.3 L192.8,39.2 Z" fill="#3b1c9c"/>
<path d="M227.8,32.4 L238,27.3 L248.2,23 L260.2,16.2 L268.7,18.8 L269.6,25.6 L260.2,29.9 L265.3,30.7 L273.8,29 L274.7,37.5 L282.3,44.3 L275.5,49.5 L261.9,47.8 L248.2,44.3 L236.3,40.9 L229.5,36.7 Z" fill="#3b1c9c"/>
<path d="M268.7,68.2 L282.3,68.2 L285.8,75 L282.3,85.3 L287.5,98 L272.1,98 L269.6,85.3 L265.3,75 Z" fill="#3b1c9c"/>
<path d="M289,51 L299.4,41 L302.8,51.2 L296,61.4 L289,59.7 Z" fill="#3b1c9c"/>
<path d="M240,74 L246,72 L250,78 L254,76 L255,88 L248,92 L242,88 Z" fill="#2e1a80"/>
<path d="M57.3,31 L62,27 L70,26.4 L76,29 L75,37 L68,39.2 L60,38.5 Z" fill="#1f82d6"/>
<path d="M69.2,70 L78,66.5 L90,68 L94.8,74 L92,81 L84,83.6 L74,82 L70,77 Z" fill="#1f82d6"/>
<path d="M59,64 L67,63 L69,70 L62,70 Z" fill="#1f82d6"/>
<path d="M68.4,8.5 L79.5,1.7 L81.2,17 L74.3,18.8 L67.9,13.6 Z" fill="#e63a8c"/>
<path d="M111.9,9.4 L123,13.6 L123.8,22.2 L120.4,28.1 L110.2,22.2 L106.8,20.5 L110.2,15.4 Z" fill="#e63a8c"/>
<path d="M122,0 L130.6,0 L129,12.8 L122.5,11 Z" fill="#e63a8c"/>
<path d="M98.2,27 L105.9,25.6 L105,35 L99,34 Z" fill="#e63a8c"/>
<path d="M88.8,26.4 L92.3,26.4 L92.3,32.4 L88.8,32.4 Z" fill="#e63a8c"/>
<path d="M111.9,86 L124.7,84.4 L125,98 L111.9,98 Z" fill="#e63a8c"/>
<path d="M172.4,70 L183,67.4 L184.4,74 L174,75 Z" fill="#e63a8c"/>
<path d="M164.8,78.5 L168.2,78.5 L168.2,81.9 L164.8,81.9 Z M135.8,86 L140.9,86 L140.9,90.4 L135.8,90.4 Z M54,0 L60,0 L59,2.5 L55,2.5 Z M180,67.4 L183.4,68 L183,76.8 L180,76 Z" fill="#e63a8c"/>
<path d="M214,86 L224,79 L236,82 L239,90 L236,98 L214,98 Z" fill="#e63a8c"/>
<path d="M253.3,85 L260.2,83.6 L260,92 L254,92 Z" fill="#e63a8c"/>
<path d="M331.8,72 L338.6,71.6 L338,75 L332,75 Z" fill="#c02a80"/>
<path d="M232,2 L235,2 L235,4.5 L232,4.5 Z M304.5,36.7 L307,36.7 L307,38.9 L304.5,38.9 Z" fill="#e63a8c"/>
<path d="M245.7,84 L250,83.6 L250,88.7 L246,88.7 Z M229.5,87 L234.6,87 L234,92 L230,92 Z M290.9,11 L295,11 L295,14.5 L291,14.5 Z" fill="#30c8e8"/>
<path d="M62.4,0 L55.6,8.5 L51.3,18.8 L48.8,30.7 L47.9,44.3 L50.5,58 L55.6,71.6 L64.1,83.6 L74.3,88.7 L88,88.7 L111.9,86.1 L125.5,83.6 L142.6,84.4 L159.6,87 L180,85 L197,81.5 L214,74.5 L231,69.4 L248.2,67.5 L260.2,69 L267,73.3 L268.7,80.2 L265.3,88.7 L260.2,93.8" fill="none" stroke="#2490e6" stroke-width="2.8" stroke-linejoin="round" stroke-linecap="round"/>
<path d="M72.6,0 L64.1,6.8 L57.3,15.4 L53,25.6 L52.2,39.2 L53.9,51.2 L58.1,64.8 L65.8,76.8 L74.3,83.6 L90,85 L112,82.5" fill="none" stroke="#2490e6" stroke-width="2.2" stroke-linejoin="round" stroke-linecap="round"/>
<path d="M111.9,0 L108.5,6.8 L98.2,15.4 L88,23.9 L83.7,30.7 L82.9,42.6 L86.3,54.6 L91.4,64.8 L98.2,73.3 L106.8,80.2 L118.7,84.4" fill="none" stroke="#2490e6" stroke-width="2.4" stroke-linejoin="round" stroke-linecap="round"/>
<path d="M180,88 L205,84 L222,77 L240,72 L252,70" fill="none" stroke="#1f82d6" stroke-width="1.2" stroke-linejoin="round" stroke-linecap="round"/>
<rect x="80.2" y="0" width="1.1" height="98" fill="#d8407a"/>
</g>
<rect x="0" y="96" width="40" height="467" fill="url(#gleft)"/>
<rect x="0" y="536" width="1024" height="27" fill="url(#gbot)"/>
<g filter="url(#soft2)">
<path d="M1000,408 L1024,396 L1024,436 L1000,432 Z" fill="#a25a7e"/>
<path d="M1000,430 L1024,434 L1024,466 L1000,464 Z" fill="#5e1c4a"/>
<path d="M1004,440 L1016,436 L1024,444 L1018,452 L1006,450 Z" fill="#8a3a64"/>
<path d="M1000,462 L1024,458 L1024,490 L1000,490 Z" fill="#85305a"/>
<path d="M1000,463 L1024,458 L1024,461 L1000,466 Z" fill="#c04868"/>
<path d="M1000,488 L1024,484 L1024,563 L1000,563 Z" fill="#5c1a48"/>
<path d="M760,563 L770,548 L790,552 L800,540 L830,536 L860,536 L866,548 L850,556 L840,563 Z" fill="#7a2060"/>
<path d="M805,536 L859,536 L856,548 L836,556 L818,548 Z" fill="#6a1a50"/>
<path d="M866,540 L880,536 L904,536 L900,550 L884,558 L870,552 Z" fill="#c0507e"/>
<path d="M884,563 L892,552 L910,548 L918,536 L960,536 L1006,536 L1006,563 Z" fill="#5e1a4a"/>
<path d="M918,548 L930,540 L945,544 L940,556 L924,558 Z" fill="#7c2c5c"/>
<path d="M700,563 L716,552 L740,556 L752,546 L764,563 Z" fill="#8e2474"/>
<path d="M911,563 L1024,513.5 L1024,563 Z" fill="#a6627a"/>
</g>
<text x="13.8" y="68.2" font-size="41.6" font-weight="bold" font-style="normal" fill="#fff" textLength="897.2" lengthAdjust="spacingAndGlyphs">Decision-Making Data and Stakeholder Updates</text>
<linearGradient id="gcy" x1="0" y1="1" x2="1" y2="0"><stop offset="0" stop-color="#1fdbe4"/><stop offset="0.7" stop-color="#20d2e2"/><stop offset="1" stop-color="#2a8ad0"/></linearGradient>
<path d="M513.8,96 L522.6,96 L592,28.8 Z" fill="url(#gcy)"/>
<path d="M506.6,97 L528.2,77" stroke="#f2ecf2" stroke-width="2.8" stroke-linecap="round" fill="none"/>
<clipPath id="dashclip"><rect x="18" y="95" width="988" height="444"/></clipPath>
<g clip-path="url(#dashclip)"><g filter="url(#soft)">
<rect x="10" y="90" width="1004" height="460" fill="#e5e5e5"/>
<rect x="10" y="88" width="1004" height="41" fill="#fff"/>
<rect x="18" y="128.5" width="988" height="1" fill="#cfcfcf"/>
<rect x="10" y="94.6" width="1004" height="1" fill="#d8d8d8"/>
<rect x="18" y="137" width="988" height="1" fill="#d0d0d0"/>
<path d="M28.5,105.2 Q34,103.6 40,104.8 Q46,106 52.3,104 L52.3,108.2 Q46,110 40,108.9 Q34,107.8 28.5,109.4 Z" fill="#4f7f22"/>
<path d="M30.5,106.8 Q35,105.6 40,106.6 Q45,107.6 50.5,106" stroke="#8fb060" stroke-width="0.8" fill="none"/>
<rect x="42.3" y="109.2" width="1.3" height="2.6" fill="#e09a50"/>
<text x="29.1" y="115.2" font-size="4.7" font-weight="bold" font-style="normal" fill="#f0a050" textLength="22.2" lengthAdjust="spacingAndGlyphs">FEEDING</text>
<text x="29.1" y="118.7" font-size="4.3" font-weight="bold" font-style="normal" fill="#4f9458" textLength="22.2" lengthAdjust="spacingAndGlyphs">AMERICA</text>
<rect x="29.5" y="120.1" width="21.4" height="1.1" fill="#a8a8a8" opacity="0.7"/>
<text x="63.3" y="118.4" font-size="16.8" font-weight="normal" font-style="normal" fill="#575757" textLength="118.9" lengthAdjust="spacingAndGlyphs">HERO Program</text>
<text x="188.2" y="118.4" font-size="11.4" font-weight="normal" font-style="normal" fill="#666" textLength="76.0" lengthAdjust="spacingAndGlyphs">Full Summary</text>
<text x="499.4" y="116.6" font-size="11.6" font-weight="bold" font-style="normal" fill="#4a4a4a" textLength="73.7" lengthAdjust="spacingAndGlyphs">Select Pantry</text>
<rect x="578.5" y="101.5" width="110" height="22" fill="#fff" stroke="#dadada" stroke-width="1"/>
<text x="585.0" y="115.8" font-size="8.5" font-weight="normal" font-style="normal" fill="#999" textLength="10.9" lengthAdjust="spacingAndGlyphs">All</text>
<path d="M673,110.8 L680.6,110.8 L676.8,114.4 Z" fill="#444"/>
<text x="702.1" y="116.6" font-size="11.6" font-weight="bold" font-style="normal" fill="#4a4a4a" textLength="167.1" lengthAdjust="spacingAndGlyphs">Select Date Range of Pickups</text>
<rect x="874.5" y="101.5" width="78.5" height="22" fill="#fff" stroke="#dadada" stroke-width="1"/>
<text x="880.2" y="115.6" font-size="7.8" font-weight="normal" font-style="normal" fill="#777" textLength="52.4" lengthAdjust="spacingAndGlyphs">Enter a date</text>
<path d="M938.4,110.6 L945.6,110.6 L942,114.4 Z" fill="#444"/>
<rect x="982" y="106.2" width="13" height="1.4" fill="#555"/>
<rect x="982" y="111.39999999999999" width="13" height="1.4" fill="#555"/>
<rect x="982" y="116.5" width="13" height="1.4" fill="#555"/>
<rect x="18" y="138" width="174.5" height="159" fill="#fff" stroke="#c6c6c6" stroke-width="1"/>
<rect x="25.5" y="297" width="160.5" height="22" fill="#fff" stroke="#c6c6c6" stroke-width="1"/>
<rect x="26.0" y="296" width="159.5" height="2" fill="#fff"/>
<path d="M39.3,303.8 L39.3,310.59999999999997 L34.9,307.2 Z" fill="#333"/>
<path d="M171.4,303.8 L171.4,310.59999999999997 L175.8,307.2 Z" fill="#333"/>
<text x="62.0" y="310.5" font-size="9" font-weight="normal" font-style="normal" fill="#666" textLength="86.4" lengthAdjust="spacingAndGlyphs">Completed Requests</text>
<text x="34.5" y="155.4" font-size="13.7" font-weight="bold" font-style="normal" fill="#4a4a4a" textLength="141.7" lengthAdjust="spacingAndGlyphs">Completed Requests</text>
<path d="M76.83,224.25 A32.3,32.3 0 1 1 134.25,221.36 L126.05,217.67 A23.3,23.3 0 1 0 84.62,219.75 Z" fill="#12a5e0"/>
<path d="M134.25,221.36 A32.3,32.3 0 0 1 132.77,224.25 L124.98,219.75 A23.3,23.3 0 0 0 126.05,217.67 Z" fill="#d8e21c"/>
<text x="90.8" y="213.2" font-size="14.4" font-weight="normal" font-style="normal" fill="#6a6a6a" textLength="28.5" lengthAdjust="spacingAndGlyphs">8.1k</text>
<text x="78.1" y="228.1" font-size="9.2" font-weight="normal" font-style="normal" fill="#909090" textLength="6.0" lengthAdjust="spacingAndGlyphs">0</text>
<text x="112.6" y="228.1" font-size="9.2" font-weight="normal" font-style="normal" fill="#909090" textLength="20.8" lengthAdjust="spacingAndGlyphs">8.3k</text>
<text x="22.0" y="262.5" font-size="10.4" font-weight="normal" font-style="italic" fill="#7a7a7a" textLength="137.7" lengthAdjust="spacingAndGlyphs">Completed delivery requests,</text>
<text x="22.0" y="277.9" font-size="10.4" font-weight="normal" font-style="italic" fill="#7a7a7a" textLength="99.1" lengthAdjust="spacingAndGlyphs">March 2020 - Present</text>
<text x="98.4" y="294.1" font-size="7.5" font-weight="normal" font-style="italic" fill="#565656" textLength="91.5" lengthAdjust="spacingAndGlyphs">Last update: a minute ago</text>
<rect x="200" y="138" width="209.5" height="191" fill="#fff" stroke="#c6c6c6" stroke-width="1"/>
<text x="204.6" y="153.3" font-size="11.2" font-weight="bold" font-style="normal" fill="#4a4a4a" textLength="99.2" lengthAdjust="spacingAndGlyphs">Predominant Race</text>
<path d="M247.90,227.60 L247.90,194.30 A33.3,33.3 0 0 1 252.71,194.65 Z" fill="#dcdcdc"/>
<path d="M247.90,227.60 L252.71,194.65 A33.3,33.3 0 0 1 275.80,209.41 Z" fill="#b8470f"/>
<path d="M247.90,227.60 L275.80,209.41 A33.3,33.3 0 0 1 281.17,229.05 Z" fill="#0d7a50"/>
<path d="M247.90,227.60 L281.17,229.05 A33.3,33.3 0 0 1 281.13,229.69 Z" fill="#c8c020"/>
<path d="M247.90,227.60 L281.13,229.69 A33.3,33.3 0 0 1 215.59,235.66 Z" fill="#04a8cd"/>
<path d="M247.90,227.60 L215.59,235.66 A33.3,33.3 0 0 1 247.90,194.30 Z" fill="#7b4397"/>
<clipPath id="legclip"><rect x="290" y="160" width="115" height="135.6"/></clipPath>
<g clip-path="url(#legclip)">
<circle cx="301.9" cy="175.4" r="5.4" fill="#d2d2d2"/>
<text x="311.2" y="178.6" font-size="7.6" font-weight="normal" font-style="normal" fill="#6a6a6a" textLength="34.5" lengthAdjust="spacingAndGlyphs">American</text>
<text x="354.1" y="178.6" font-size="7.6" font-weight="normal" font-style="normal" fill="#6a6a6a" textLength="18.5" lengthAdjust="spacingAndGlyphs">2.3%</text>
<text x="311.2" y="188.7" font-size="7.6" font-weight="normal" font-style="normal" fill="#6a6a6a" textLength="38.7" lengthAdjust="spacingAndGlyphs">Indian and</text>
<text x="311.2" y="198.4" font-size="7.6" font-weight="normal" font-style="normal" fill="#6a6a6a" textLength="23.7" lengthAdjust="spacingAndGlyphs">Alaska</text>
<text x="311.2" y="208.0" font-size="7.6" font-weight="normal" font-style="normal" fill="#6a6a6a" textLength="22.7" lengthAdjust="spacingAndGlyphs">Native</text>
<circle cx="301.9" cy="224.6" r="5.4" fill="#b8470f"/>
<text x="311.2" y="228.4" font-size="7.6" font-weight="normal" font-style="normal" fill="#6a6a6a" textLength="20.1" lengthAdjust="spacingAndGlyphs">Asian</text>
<text x="336.3" y="228.4" font-size="7.6" font-weight="normal" font-style="normal" fill="#6a6a6a" textLength="21.6" lengthAdjust="spacingAndGlyphs">13.5%</text>
<circle cx="302" cy="245.7" r="5.4" fill="#0d7a50"/>
<text x="310.6" y="249.5" font-size="7.6" font-weight="normal" font-style="normal" fill="#6a6a6a" textLength="28.3" lengthAdjust="spacingAndGlyphs">Back or</text>
<text x="350.6" y="249.5" font-size="7.6" font-weight="normal" font-style="normal" fill="#6a6a6a" textLength="18.4" lengthAdjust="spacingAndGlyphs">9.9%</text>
<text x="310.6" y="259.0" font-size="7.6" font-weight="normal" font-style="normal" fill="#6a6a6a" textLength="25.8" lengthAdjust="spacingAndGlyphs">African</text>
<text x="310.6" y="268.1" font-size="7.6" font-weight="normal" font-style="normal" fill="#6a6a6a" textLength="35.1" lengthAdjust="spacingAndGlyphs">American</text>
<circle cx="302" cy="284.9" r="5.4" fill="#b7b308"/>
<text x="310.6" y="288.9" font-size="7.6" font-weight="normal" font-style="normal" fill="#6a6a6a" textLength="23.3" lengthAdjust="spacingAndGlyphs">Native</text>
<text x="364.6" y="288.9" font-size="7.6" font-weight="normal" font-style="normal" fill="#6a6a6a" textLength="18.2" lengthAdjust="spacingAndGlyphs">0.3%</text>
<text x="310.6" y="298.5" font-size="7.6" font-weight="normal" font-style="normal" fill="#6a6a6a" textLength="32.8" lengthAdjust="spacingAndGlyphs">Hawaiian</text>
</g>
<rect x="396" y="162" width="4.8" height="132" fill="#ececec"/>
<rect x="396" y="162" width="4.8" height="80.5" fill="#c4c4c4"/>
<text x="204.9" y="309.7" font-size="10.4" font-weight="normal" font-style="italic" fill="#7a7a7a" textLength="158.0" lengthAdjust="spacingAndGlyphs">Data captured May 2021 - Present</text>
<text x="314.9" y="325.9" font-size="7.5" font-weight="normal" font-style="italic" fill="#565656" textLength="91.4" lengthAdjust="spacingAndGlyphs">Last update: a minute ago</text>
<rect x="417.5" y="138" width="179.0" height="191.5" fill="#fff" stroke="#c6c6c6" stroke-width="1"/>
<text x="421.2" y="152.8" font-size="11.2" font-weight="bold" font-style="normal" fill="#4a4a4a" textLength="48.0" lengthAdjust="spacingAndGlyphs">Ethnicity</text>
<path d="M507.50,177.50 A28.2,28.2 0 0 1 528.65,224.35 L513.20,210.73 A7.6,7.6 0 0 0 507.50,198.10 Z" fill="#38a010"/>
<path d="M528.65,224.35 A28.2,28.2 0 1 1 507.50,177.50 L507.50,198.10 A7.6,7.6 0 1 0 513.20,210.73 Z" fill="#8fe010"/>
<circle cx="448.2" cy="265" r="5.6" fill="#38a010"/>
<text x="457.1" y="268.2" font-size="7.6" font-weight="normal" font-style="normal" fill="#6a6a6a" textLength="67.2" lengthAdjust="spacingAndGlyphs">Hispanic or Latino</text>
<text x="544.8" y="268.2" font-size="7.6" font-weight="normal" font-style="normal" fill="#6a6a6a" textLength="28.1" lengthAdjust="spacingAndGlyphs">36.51%</text>
<circle cx="448.2" cy="284.9" r="5.6" fill="#8fe010"/>
<text x="457.1" y="288.4" font-size="7.6" font-weight="normal" font-style="normal" fill="#6a6a6a" textLength="82.1" lengthAdjust="spacingAndGlyphs">Not Hispanic or Latino</text>
<text x="544.8" y="288.4" font-size="7.6" font-weight="normal" font-style="normal" fill="#6a6a6a" textLength="28.1" lengthAdjust="spacingAndGlyphs">63.49%</text>
<clipPath id="ethclip"><rect x="418" y="295" width="159" height="20"/></clipPath>
<text x="421.2" y="309.8" font-size="10.4" font-weight="normal" font-style="italic" fill="#7a7a7a" textLength="158.2" lengthAdjust="spacingAndGlyphs" clip-path="url(#ethclip)">Data captured May 2021 - Present</text>
<text x="503.2" y="326.2" font-size="7.5" font-weight="normal" font-style="italic" fill="#565656" textLength="92.1" lengthAdjust="spacingAndGlyphs">Last update: a minute ago</text>
<clipPath id="mapclip"><rect x="605" y="138" width="238" height="209"/></clipPath>
<g clip-path="url(#mapclip)">
<rect x="605" y="138" width="238" height="209" fill="#f1efe6"/>
<path d="M605,146 L622,140 L636,148 L644,164 L636,178 L620,174 L605,182 Z" fill="#e3ecd6"/>
<path d="M607.8,185.8 L619.6,174.1 L639.1,180 L658.7,193.7 L689.9,199.5 L691.9,217.1 L664.5,219.1 L639.1,207.3 L619.6,193.7 Z" fill="#d3e3bd"/>
<path d="M605,196 L620,200 L640,212 L662,222 L690,222 L700,240 L690,262 L670,252 L650,240 L630,228 L605,226 Z" fill="#e9e6da"/>
<path d="M640,232 L680,228 L700,250 L720,280 L735,300 L760,296 L790,300 L800,330 L780,347 L740,347 L725,320 L705,290 L680,262 L655,245 Z" fill="#e6eed6"/>
<path d="M735,300 L770,292 L796,305 L790,335 L760,345 L745,330 Z" fill="#d6e5bd"/>
<path d="M800,282 L843,282 L843,347 L800,347 L806,320 Z" fill="#efeee8"/>
<rect x="659.6" y="154.5" width="32.3" height="10.8" fill="#dadad8"/>
<path d="M693.3,138 L843,138 L843,229.7 L760,229.7 L744,229.7 L720,224 L700,215 L693.3,206 Z" fill="#f5dba8"/>
<path d="M770,178 L786,172 L806,176 L818,190 L820,210 L808,222 L790,224 L776,212 Z" fill="#e8cf9e"/>
<path d="M692,201 L717,199 L740,204 L762,206 L764,222 L740,229 L712,224 L696,214 Z" fill="#e6c684"/>
<path d="M744,229.7 L843,229.7 L843,278 L760,278 L730,276 L700,272 L712,256 L730,240 Z" fill="#bedb90"/>
<path d="M800,262 L820,258 L835,268 L825,278 L805,278 Z" fill="#a8d4a0"/>
<path d="M605,228 L634,228 L646,238 L661,249.4 L680,262 L697.7,273.8 L706,286 L710,298.2 L716,310 L722,322.7 L729,334.9 L734,347 L605,347 Z" fill="#cfeaf8"/>
<path d="M605,258 L660,258 L690,280 L700,300 L712,347 L605,347 Z" fill="#c4e6f8" opacity="0.7"/>
<path d="M630,276 L638,275 L647,282 L652,288 L644,288 L636,283 Z" fill="#e8ecd8" stroke="#c8d8c8" stroke-width="0.5"/>
<path d="M628,312 L634,313 L645,324 L648,330 L640,327 L632,319 Z" fill="#e8ecd8" stroke="#c8d8c8" stroke-width="0.5"/>
<text x="659.4" y="171.6" font-size="8.2" font-weight="normal" font-style="normal" fill="#666" textLength="39.9" lengthAdjust="spacingAndGlyphs">Lancaster</text>
<circle cx="659.5" cy="176.5" r="1.4" fill="#fff" stroke="#777" stroke-width="0.6"/>
<text x="632.6" y="186.3" font-size="8" font-weight="normal" font-style="normal" fill="#666" textLength="22.8" lengthAdjust="spacingAndGlyphs">Santa</text>
<text x="632.6" y="194.8" font-size="8" font-weight="normal" font-style="normal" fill="#666" textLength="24.8" lengthAdjust="spacingAndGlyphs">Clarita</text>
<circle cx="632" cy="200" r="1.4" fill="#fff" stroke="#777" stroke-width="0.6"/>
<text x="666.0" y="190.0" font-size="8" font-weight="normal" font-style="normal" fill="#666" textLength="33.4" lengthAdjust="spacingAndGlyphs">Palmdale</text>
<text x="716.6" y="187.5" font-size="8" font-weight="normal" font-style="normal" fill="#666" textLength="39.8" lengthAdjust="spacingAndGlyphs">Victorville</text>
<text x="661.6" y="203.4" font-size="6" font-weight="normal" font-style="normal" fill="#7fa070" textLength="26.8" lengthAdjust="spacingAndGlyphs">Angeles</text>
<text x="661.6" y="209.8" font-size="6" font-weight="normal" font-style="normal" fill="#7fa070" textLength="26.8" lengthAdjust="spacingAndGlyphs">National</text>
<text x="665.6" y="216.2" font-size="6" font-weight="normal" font-style="normal" fill="#7fa070" textLength="20.8" lengthAdjust="spacingAndGlyphs">Forest</text>
<text x="702.6" y="210.5" font-size="6" font-weight="normal" font-style="normal" fill="#9a9060" textLength="49.8" lengthAdjust="spacingAndGlyphs">San Bernardino</text>
<text x="729.6" y="217.2" font-size="6" font-weight="normal" font-style="normal" fill="#9a9060" textLength="22.8" lengthAdjust="spacingAndGlyphs">Forest</text>
<text x="605.0" y="211.9" font-size="8.4" font-weight="normal" font-style="normal" fill="#666" textLength="13.7" lengthAdjust="spacingAndGlyphs">ard</text>
<text x="604.6" y="230.2" font-size="10" font-weight="normal" font-style="normal" fill="#666" textLength="44.6" lengthAdjust="spacingAndGlyphs">s Angeles</text>
<circle cx="652.6" cy="228" r="1.6" fill="#fff" stroke="#777" stroke-width="0.6"/>
<text x="672.8" y="230.2" font-size="9" font-weight="normal" font-style="normal" fill="#666" textLength="6.6" lengthAdjust="spacingAndGlyphs">R</text>
<text x="604.6" y="251.4" font-size="9" font-weight="normal" font-style="normal" fill="#666" textLength="51.8" lengthAdjust="spacingAndGlyphs">Long Beach</text>
<circle cx="657" cy="249.5" r="1.5" fill="#fff" stroke="#777" stroke-width="0.6"/>
<text x="674.1" y="262.8" font-size="8" font-weight="normal" font-style="normal" fill="#666" textLength="26.3" lengthAdjust="spacingAndGlyphs">Santa A</text>
<circle cx="677.5" cy="253.5" r="1.5" fill="#fff" stroke="#777" stroke-width="0.6"/>
<text x="710.6" y="292.1" font-size="8" font-weight="normal" font-style="normal" fill="#666" textLength="43.6" lengthAdjust="spacingAndGlyphs">Oceanside</text>
<circle cx="710.4" cy="297" r="1.6" fill="#fff" stroke="#777" stroke-width="0.6"/>
<text x="685.6" y="330.5" font-size="10" font-weight="normal" font-style="normal" fill="#4a4a4a" textLength="49.8" lengthAdjust="spacingAndGlyphs">San Diego</text>
<text x="744.9" y="328.0" font-size="6" font-weight="normal" font-style="normal" fill="#7fa070" textLength="31.3" lengthAdjust="spacingAndGlyphs">Cleveland</text>
<text x="747.6" y="333.8" font-size="6" font-weight="normal" font-style="normal" fill="#7fa070" textLength="26.8" lengthAdjust="spacingAndGlyphs">National</text>
<text x="810.6" y="234.8" font-size="6" font-weight="normal" font-style="normal" fill="#7fa070" textLength="32.8" lengthAdjust="spacingAndGlyphs">Joshua Tr</text>
<text x="817.6" y="241.0" font-size="6" font-weight="normal" font-style="normal" fill="#7fa070" textLength="25.8" lengthAdjust="spacingAndGlyphs">Nationa</text>
<text x="829.6" y="247.0" font-size="6" font-weight="normal" font-style="normal" fill="#7fa070" textLength="8.8" lengthAdjust="spacingAndGlyphs">Pa</text>
<text x="822.6" y="146.0" font-size="5.6" font-weight="normal" font-style="normal" fill="#c0b484" textLength="20.8" lengthAdjust="spacingAndGlyphs">Nation</text>
<text x="822.6" y="151.6" font-size="5.6" font-weight="normal" font-style="normal" fill="#c0b484" textLength="20.8" lengthAdjust="spacingAndGlyphs">Preser</text>
<text x="774.2" y="264.0" font-size="8" font-weight="normal" font-style="normal" fill="#666" textLength="47.2" lengthAdjust="spacingAndGlyphs">Palm Desert</text>
<defs><g id="mk"><circle cx="0" cy="0" r="4" fill="#5a94cb" stroke="#74a8d8" stroke-width="0.5"/><path d="M-1.9,2 L-1.9,-0.4 L0,-2.4 L1.9,-0.4 L1.9,2 L0.7,2 L0.7,0.4 L-0.7,0.4 L-0.7,2 Z" fill="#2f5c90" opacity="0.8"/></g></defs>
<g>
<use href="#mk" x="735.0" y="159.5"/>
<use href="#mk" x="741.0" y="160.0"/>
<use href="#mk" x="753.0" y="160.5"/>
<use href="#mk" x="727.0" y="161.0"/>
<use href="#mk" x="718.4" y="167.4"/>
<use href="#mk" x="713.4" y="172.4"/>
<use href="#mk" x="730.8" y="174.9"/>
<use href="#mk" x="693.7" y="184.4"/>
<use href="#mk" x="712.1" y="184.5"/>
<use href="#mk" x="702.4" y="185.3"/>
<use href="#mk" x="693.5" y="186.0"/>
<use href="#mk" x="700.2" y="186.0"/>
<use href="#mk" x="707.1" y="186.4"/>
<use href="#mk" x="717.5" y="187.0"/>
<use href="#mk" x="661.0" y="187.3"/>
<use href="#mk" x="696.3" y="187.4"/>
<use href="#mk" x="695.6" y="188.4"/>
<use href="#mk" x="698.4" y="189.1"/>
<use href="#mk" x="703.4" y="189.1"/>
<use href="#mk" x="717.4" y="190.0"/>
<use href="#mk" x="691.1" y="190.8"/>
<use href="#mk" x="724.9" y="190.9"/>
<use href="#mk" x="706.1" y="191.0"/>
<use href="#mk" x="717.1" y="191.5"/>
<use href="#mk" x="690.9" y="191.7"/>
<use href="#mk" x="731.4" y="192.0"/>
<use href="#mk" x="722.7" y="192.2"/>
<use href="#mk" x="694.5" y="192.3"/>
<use href="#mk" x="718.1" y="192.7"/>
<use href="#mk" x="707.2" y="192.7"/>
<use href="#mk" x="697.7" y="192.9"/>
<use href="#mk" x="692.3" y="192.9"/>
<use href="#mk" x="717.6" y="193.0"/>
<use href="#mk" x="721.0" y="194.0"/>
<use href="#mk" x="720.7" y="194.0"/>
<use href="#mk" x="731.1" y="194.0"/>
<use href="#mk" x="739.5" y="194.3"/>
<use href="#mk" x="733.0" y="194.5"/>
<use href="#mk" x="727.4" y="194.6"/>
<use href="#mk" x="691.1" y="196.1"/>
<use href="#mk" x="724.7" y="196.2"/>
<use href="#mk" x="744.0" y="196.8"/>
<use href="#mk" x="693.1" y="196.9"/>
<use href="#mk" x="701.7" y="197.6"/>
<use href="#mk" x="691.5" y="197.8"/>
<use href="#mk" x="695.8" y="197.9"/>
<use href="#mk" x="711.6" y="197.9"/>
<use href="#mk" x="723.6" y="198.1"/>
<use href="#mk" x="695.2" y="198.3"/>
<use href="#mk" x="728.6" y="199.0"/>
<use href="#mk" x="696.5" y="199.2"/>
<use href="#mk" x="724.7" y="199.6"/>
<use href="#mk" x="725.1" y="200.0"/>
<use href="#mk" x="713.1" y="200.1"/>
<use href="#mk" x="706.2" y="200.7"/>
<use href="#mk" x="719.1" y="200.8"/>
<use href="#mk" x="714.7" y="201.0"/>
<use href="#mk" x="712.6" y="201.1"/>
<use href="#mk" x="705.6" y="201.4"/>
<use href="#mk" x="694.0" y="201.9"/>
<use href="#mk" x="720.9" y="202.0"/>
<use href="#mk" x="706.0" y="202.1"/>
<use href="#mk" x="703.4" y="203.3"/>
<use href="#mk" x="721.2" y="203.6"/>
<use href="#mk" x="722.1" y="204.6"/>
<use href="#mk" x="705.0" y="204.8"/>
<use href="#mk" x="719.9" y="209.9"/>
<use href="#mk" x="721.8" y="211.1"/>
<use href="#mk" x="707.9" y="211.9"/>
<use href="#mk" x="719.6" y="212.0"/>
<use href="#mk" x="721.9" y="212.1"/>
<use href="#mk" x="724.9" y="212.7"/>
<use href="#mk" x="701.7" y="214.3"/>
<use href="#mk" x="708.0" y="214.8"/>
<use href="#mk" x="698.5" y="215.9"/>
<use href="#mk" x="718.8" y="216.0"/>
<use href="#mk" x="693.8" y="216.8"/>
<use href="#mk" x="691.8" y="216.8"/>
<use href="#mk" x="718.2" y="216.9"/>
<use href="#mk" x="709.9" y="217.2"/>
<use href="#mk" x="696.2" y="217.5"/>
<use href="#mk" x="702.0" y="217.7"/>
<use href="#mk" x="702.2" y="217.7"/>
<use href="#mk" x="716.9" y="218.5"/>
<use href="#mk" x="723.3" y="219.0"/>
<use href="#mk" x="730.4" y="219.1"/>
<use href="#mk" x="700.0" y="219.2"/>
<use href="#mk" x="706.6" y="219.3"/>
<use href="#mk" x="690.4" y="219.3"/>
<use href="#mk" x="688.9" y="219.6"/>
<use href="#mk" x="775.0" y="219.7"/>
<use href="#mk" x="689.0" y="220.1"/>
<use href="#mk" x="693.7" y="220.1"/>
<use href="#mk" x="697.1" y="220.2"/>
<use href="#mk" x="717.8" y="220.2"/>
<use href="#mk" x="701.0" y="220.2"/>
<use href="#mk" x="716.3" y="221.3"/>
<use href="#mk" x="721.0" y="221.3"/>
<use href="#mk" x="717.6" y="221.5"/>
<use href="#mk" x="716.1" y="221.7"/>
<use href="#mk" x="720.7" y="222.0"/>
<use href="#mk" x="689.8" y="222.2"/>
<use href="#mk" x="721.9" y="222.2"/>
<use href="#mk" x="709.8" y="222.8"/>
<use href="#mk" x="736.0" y="222.9"/>
<use href="#mk" x="684.1" y="223.1"/>
<use href="#mk" x="705.6" y="223.3"/>
<use href="#mk" x="733.4" y="223.3"/>
<use href="#mk" x="691.6" y="223.3"/>
<use href="#mk" x="728.3" y="223.3"/>
<use href="#mk" x="696.1" y="223.3"/>
<use href="#mk" x="721.4" y="223.4"/>
<use href="#mk" x="684.9" y="223.4"/>
<use href="#mk" x="720.8" y="224.5"/>
<use href="#mk" x="707.0" y="224.7"/>
<use href="#mk" x="690.2" y="224.7"/>
<use href="#mk" x="711.8" y="224.8"/>
<use href="#mk" x="698.1" y="225.0"/>
<use href="#mk" x="690.8" y="225.0"/>
<use href="#mk" x="721.6" y="225.4"/>
<use href="#mk" x="694.4" y="225.4"/>
<use href="#mk" x="704.9" y="225.5"/>
<use href="#mk" x="720.1" y="225.6"/>
<use href="#mk" x="713.3" y="225.8"/>
<use href="#mk" x="723.2" y="225.9"/>
<use href="#mk" x="685.9" y="226.0"/>
<use href="#mk" x="703.1" y="226.2"/>
<use href="#mk" x="700.3" y="226.4"/>
<use href="#mk" x="699.3" y="226.5"/>
<use href="#mk" x="690.1" y="226.5"/>
<use href="#mk" x="690.6" y="226.6"/>
<use href="#mk" x="702.2" y="226.6"/>
<use href="#mk" x="711.7" y="226.8"/>
<use href="#mk" x="690.5" y="226.9"/>
<use href="#mk" x="692.1" y="227.0"/>
<use href="#mk" x="714.4" y="227.3"/>
<use href="#mk" x="699.6" y="227.4"/>
<use href="#mk" x="728.3" y="227.7"/>
<use href="#mk" x="697.1" y="227.7"/>
<use href="#mk" x="713.0" y="227.8"/>
<use href="#mk" x="708.1" y="227.9"/>
<use href="#mk" x="686.1" y="227.9"/>
<use href="#mk" x="688.6" y="227.9"/>
<use href="#mk" x="700.4" y="227.9"/>
<use href="#mk" x="716.9" y="228.1"/>
<use href="#mk" x="685.0" y="228.2"/>
<use href="#mk" x="707.8" y="228.4"/>
<use href="#mk" x="706.0" y="228.7"/>
<use href="#mk" x="700.4" y="228.8"/>
<use href="#mk" x="685.1" y="228.8"/>
<use href="#mk" x="692.0" y="229.2"/>
<use href="#mk" x="713.6" y="229.2"/>
<use href="#mk" x="739.8" y="229.6"/>
<use href="#mk" x="735.4" y="229.8"/>
<use href="#mk" x="700.7" y="230.0"/>
<use href="#mk" x="683.3" y="230.0"/>
<use href="#mk" x="717.2" y="230.5"/>
<use href="#mk" x="705.4" y="230.5"/>
<use href="#mk" x="733.8" y="230.6"/>
<use href="#mk" x="717.0" y="230.6"/>
<use href="#mk" x="732.9" y="230.8"/>
<use href="#mk" x="740.9" y="230.8"/>
<use href="#mk" x="705.6" y="230.9"/>
<use href="#mk" x="663.6" y="230.9"/>
<use href="#mk" x="731.4" y="231.0"/>
<use href="#mk" x="696.1" y="231.9"/>
<use href="#mk" x="721.5" y="231.9"/>
<use href="#mk" x="711.9" y="232.5"/>
<use href="#mk" x="727.4" y="232.5"/>
<use href="#mk" x="729.8" y="232.6"/>
<use href="#mk" x="710.7" y="232.9"/>
<use href="#mk" x="710.9" y="233.4"/>
<use href="#mk" x="722.3" y="233.4"/>
<use href="#mk" x="717.2" y="233.4"/>
<use href="#mk" x="718.7" y="233.8"/>
<use href="#mk" x="691.5" y="233.8"/>
<use href="#mk" x="700.7" y="234.1"/>
<use href="#mk" x="713.2" y="234.1"/>
<use href="#mk" x="726.1" y="234.3"/>
<use href="#mk" x="685.4" y="234.3"/>
<use href="#mk" x="702.9" y="234.4"/>
<use href="#mk" x="705.4" y="234.7"/>
<use href="#mk" x="688.7" y="234.8"/>
<use href="#mk" x="732.2" y="235.0"/>
<use href="#mk" x="690.9" y="235.1"/>
<use href="#mk" x="771.7" y="235.1"/>
<use href="#mk" x="706.2" y="235.1"/>
<use href="#mk" x="688.3" y="235.3"/>
<use href="#mk" x="695.8" y="235.3"/>
<use href="#mk" x="723.9" y="235.4"/>
<use href="#mk" x="701.4" y="235.5"/>
<use href="#mk" x="697.8" y="235.7"/>
<use href="#mk" x="653.7" y="235.8"/>
<use href="#mk" x="769.4" y="235.8"/>
<use href="#mk" x="732.4" y="235.9"/>
<use href="#mk" x="726.5" y="236.0"/>
<use href="#mk" x="721.3" y="236.3"/>
<use href="#mk" x="734.5" y="236.4"/>
<use href="#mk" x="657.8" y="236.5"/>
<use href="#mk" x="720.5" y="236.7"/>
<use href="#mk" x="722.5" y="236.8"/>
<use href="#mk" x="763.6" y="237.4"/>
<use href="#mk" x="710.5" y="237.5"/>
<use href="#mk" x="692.0" y="237.5"/>
<use href="#mk" x="731.6" y="237.6"/>
<use href="#mk" x="725.7" y="237.6"/>
<use href="#mk" x="727.3" y="237.8"/>
<use href="#mk" x="712.2" y="237.9"/>
<use href="#mk" x="687.4" y="238.0"/>
<use href="#mk" x="697.9" y="238.0"/>
<use href="#mk" x="768.9" y="238.5"/>
<use href="#mk" x="741.5" y="239.0"/>
<use href="#mk" x="702.8" y="239.1"/>
<use href="#mk" x="709.3" y="239.2"/>
<use href="#mk" x="699.2" y="239.3"/>
<use href="#mk" x="698.3" y="239.3"/>
<use href="#mk" x="701.3" y="239.4"/>
<use href="#mk" x="707.7" y="239.5"/>
<use href="#mk" x="736.4" y="239.9"/>
<use href="#mk" x="735.8" y="240.1"/>
<use href="#mk" x="709.6" y="240.1"/>
<use href="#mk" x="690.5" y="240.3"/>
<use href="#mk" x="693.2" y="240.4"/>
<use href="#mk" x="747.2" y="240.4"/>
<use href="#mk" x="730.5" y="240.4"/>
<use href="#mk" x="747.4" y="240.4"/>
<use href="#mk" x="716.6" y="240.9"/>
<use href="#mk" x="725.4" y="241.0"/>
<use href="#mk" x="779.4" y="241.1"/>
<use href="#mk" x="690.0" y="241.2"/>
<use href="#mk" x="754.8" y="241.2"/>
<use href="#mk" x="732.9" y="241.3"/>
<use href="#mk" x="692.9" y="241.4"/>
<use href="#mk" x="712.8" y="241.4"/>
<use href="#mk" x="738.2" y="241.5"/>
<use href="#mk" x="772.5" y="241.5"/>
<use href="#mk" x="751.0" y="241.7"/>
<use href="#mk" x="740.1" y="241.8"/>
<use href="#mk" x="740.8" y="241.9"/>
<use href="#mk" x="727.6" y="242.2"/>
<use href="#mk" x="709.0" y="242.4"/>
<use href="#mk" x="704.0" y="242.5"/>
<use href="#mk" x="704.7" y="242.6"/>
<use href="#mk" x="722.4" y="242.8"/>
<use href="#mk" x="741.1" y="242.9"/>
<use href="#mk" x="753.4" y="243.5"/>
<use href="#mk" x="694.1" y="243.5"/>
<use href="#mk" x="695.5" y="243.6"/>
<use href="#mk" x="731.2" y="243.6"/>
<use href="#mk" x="699.2" y="243.6"/>
<use href="#mk" x="752.5" y="243.6"/>
<use href="#mk" x="741.5" y="243.9"/>
<use href="#mk" x="748.9" y="244.0"/>
<use href="#mk" x="718.2" y="244.3"/>
<use href="#mk" x="699.1" y="244.4"/>
<use href="#mk" x="712.7" y="244.5"/>
<use href="#mk" x="836.6" y="244.6"/>
<use href="#mk" x="692.5" y="244.7"/>
<use href="#mk" x="715.3" y="245.0"/>
<use href="#mk" x="770.9" y="245.3"/>
<use href="#mk" x="778.8" y="245.7"/>
<use href="#mk" x="718.9" y="245.7"/>
<use href="#mk" x="676.6" y="245.8"/>
<use href="#mk" x="710.4" y="245.8"/>
<use href="#mk" x="696.5" y="245.9"/>
<use href="#mk" x="730.2" y="245.9"/>
<use href="#mk" x="712.2" y="246.0"/>
<use href="#mk" x="743.3" y="246.1"/>
<use href="#mk" x="747.3" y="246.2"/>
<use href="#mk" x="731.2" y="246.4"/>
<use href="#mk" x="698.6" y="246.8"/>
<use href="#mk" x="706.7" y="246.9"/>
<use href="#mk" x="713.9" y="247.3"/>
<use href="#mk" x="728.0" y="247.7"/>
<use href="#mk" x="766.3" y="247.8"/>
<use href="#mk" x="721.1" y="247.9"/>
<use href="#mk" x="717.1" y="248.0"/>
<use href="#mk" x="721.2" y="248.1"/>
<use href="#mk" x="786.8" y="248.8"/>
<use href="#mk" x="745.2" y="249.1"/>
<use href="#mk" x="708.7" y="249.1"/>
<use href="#mk" x="757.1" y="249.2"/>
<use href="#mk" x="729.2" y="249.3"/>
<use href="#mk" x="712.4" y="249.3"/>
<use href="#mk" x="740.1" y="249.3"/>
<use href="#mk" x="717.5" y="249.4"/>
<use href="#mk" x="751.6" y="249.6"/>
<use href="#mk" x="739.5" y="249.7"/>
<use href="#mk" x="710.3" y="250.5"/>
<use href="#mk" x="705.6" y="250.5"/>
<use href="#mk" x="650.5" y="250.8"/>
<use href="#mk" x="742.7" y="251.0"/>
<use href="#mk" x="700.0" y="251.1"/>
<use href="#mk" x="697.3" y="251.6"/>
<use href="#mk" x="714.4" y="251.7"/>
<use href="#mk" x="723.0" y="251.7"/>
<use href="#mk" x="698.4" y="251.8"/>
<use href="#mk" x="705.8" y="251.9"/>
<use href="#mk" x="699.7" y="252.0"/>
<use href="#mk" x="755.7" y="252.0"/>
<use href="#mk" x="788.9" y="252.3"/>
<use href="#mk" x="767.2" y="252.4"/>
<use href="#mk" x="737.0" y="252.6"/>
<use href="#mk" x="783.5" y="252.8"/>
<use href="#mk" x="700.9" y="253.0"/>
<use href="#mk" x="769.0" y="253.1"/>
<use href="#mk" x="742.9" y="254.3"/>
<use href="#mk" x="722.3" y="254.3"/>
<use href="#mk" x="728.9" y="254.5"/>
<use href="#mk" x="754.1" y="254.5"/>
<use href="#mk" x="781.4" y="254.9"/>
<use href="#mk" x="753.1" y="255.0"/>
<use href="#mk" x="725.8" y="255.1"/>
<use href="#mk" x="721.3" y="255.2"/>
<use href="#mk" x="771.8" y="255.4"/>
<use href="#mk" x="738.0" y="255.7"/>
<use href="#mk" x="769.6" y="255.8"/>
<use href="#mk" x="774.9" y="256.1"/>
<use href="#mk" x="721.6" y="256.1"/>
<use href="#mk" x="739.4" y="256.2"/>
<use href="#mk" x="741.7" y="256.3"/>
<use href="#mk" x="783.7" y="256.5"/>
<use href="#mk" x="746.3" y="257.0"/>
<use href="#mk" x="741.5" y="257.3"/>
<use href="#mk" x="714.9" y="257.4"/>
<use href="#mk" x="728.0" y="257.8"/>
<use href="#mk" x="718.9" y="257.8"/>
<use href="#mk" x="774.8" y="257.8"/>
<use href="#mk" x="711.6" y="258.1"/>
<use href="#mk" x="730.9" y="258.6"/>
<use href="#mk" x="720.9" y="258.6"/>
<use href="#mk" x="776.7" y="258.7"/>
<use href="#mk" x="731.4" y="259.0"/>
<use href="#mk" x="722.8" y="259.2"/>
<use href="#mk" x="788.8" y="259.2"/>
<use href="#mk" x="719.3" y="259.3"/>
<use href="#mk" x="772.4" y="259.4"/>
<use href="#mk" x="781.6" y="259.7"/>
<use href="#mk" x="735.1" y="259.9"/>
<use href="#mk" x="722.0" y="260.0"/>
<use href="#mk" x="736.0" y="260.0"/>
<use href="#mk" x="776.0" y="260.2"/>
<use href="#mk" x="732.2" y="260.4"/>
<use href="#mk" x="745.1" y="260.4"/>
<use href="#mk" x="726.8" y="260.5"/>
<use href="#mk" x="783.7" y="260.9"/>
<use href="#mk" x="744.2" y="261.7"/>
<use href="#mk" x="787.9" y="262.1"/>
<use href="#mk" x="745.8" y="263.4"/>
<use href="#mk" x="745.4" y="263.4"/>
<use href="#mk" x="747.1" y="263.5"/>
<use href="#mk" x="745.4" y="264.1"/>
<use href="#mk" x="707.5" y="264.2"/>
<use href="#mk" x="714.3" y="264.8"/>
<use href="#mk" x="726.1" y="265.0"/>
<use href="#mk" x="709.5" y="265.3"/>
<use href="#mk" x="733.1" y="265.4"/>
<use href="#mk" x="747.5" y="266.0"/>
<use href="#mk" x="740.1" y="266.3"/>
<use href="#mk" x="723.7" y="266.4"/>
<use href="#mk" x="742.6" y="266.5"/>
<use href="#mk" x="725.5" y="266.8"/>
<use href="#mk" x="733.5" y="268.0"/>
<use href="#mk" x="732.0" y="268.1"/>
<use href="#mk" x="749.9" y="268.5"/>
<use href="#mk" x="713.7" y="268.9"/>
<use href="#mk" x="760.7" y="268.9"/>
<use href="#mk" x="740.2" y="268.9"/>
<use href="#mk" x="740.0" y="269.1"/>
<use href="#mk" x="718.9" y="269.4"/>
<use href="#mk" x="714.7" y="269.5"/>
<use href="#mk" x="746.0" y="270.0"/>
<use href="#mk" x="714.8" y="270.0"/>
<use href="#mk" x="720.6" y="270.6"/>
<use href="#mk" x="721.4" y="270.6"/>
<use href="#mk" x="737.0" y="271.4"/>
<use href="#mk" x="713.2" y="271.5"/>
<use href="#mk" x="741.3" y="271.5"/>
<use href="#mk" x="747.7" y="272.2"/>
<use href="#mk" x="747.2" y="272.8"/>
<use href="#mk" x="715.6" y="273.4"/>
<use href="#mk" x="723.1" y="273.6"/>
<use href="#mk" x="737.3" y="273.7"/>
<use href="#mk" x="738.7" y="273.9"/>
<use href="#mk" x="727.6" y="274.2"/>
<use href="#mk" x="725.1" y="274.3"/>
<use href="#mk" x="726.7" y="274.5"/>
<use href="#mk" x="727.9" y="275.0"/>
<use href="#mk" x="735.7" y="275.2"/>
<use href="#mk" x="722.0" y="275.2"/>
<use href="#mk" x="744.3" y="275.3"/>
<use href="#mk" x="739.4" y="275.3"/>
<use href="#mk" x="741.3" y="275.4"/>
<use href="#mk" x="731.2" y="275.5"/>
<use href="#mk" x="727.8" y="275.8"/>
<use href="#mk" x="732.5" y="276.2"/>
<use href="#mk" x="731.7" y="276.5"/>
<use href="#mk" x="742.0" y="276.9"/>
<use href="#mk" x="734.7" y="277.4"/>
<use href="#mk" x="725.4" y="277.5"/>
<use href="#mk" x="744.6" y="277.8"/>
<use href="#mk" x="731.4" y="279.1"/>
<use href="#mk" x="734.6" y="279.2"/>
<use href="#mk" x="804.0" y="286.8"/>
</g>
<text x="782.6" y="251.4" font-size="9" font-weight="bold" font-style="normal" fill="#333" textLength="41.2" lengthAdjust="spacingAndGlyphs">Riverside</text>
<path d="M719,209.5 L723.5,205 L725,209.5 Z" fill="#f0c020"/>
<rect x="605" y="336" width="238" height="11" fill="#fff" opacity="0.7"/>
<text x="608.9" y="344.6" font-size="8" font-weight="normal" font-style="normal" fill="#5a5a5a" textLength="146.5" lengthAdjust="spacingAndGlyphs">Esri, HERE, Garmin, FAO, NOAA, US...</text>
<text x="774.9" y="344.6" font-size="8" font-weight="normal" font-style="normal" fill="#5a5a5a" textLength="64.3" lengthAdjust="spacingAndGlyphs">Powered by Esri</text>
<rect x="758.5" y="149.5" width="22.5" height="22.5" rx="1.2" fill="#fff" stroke="#4690b6" stroke-width="1.1"/>
<circle cx="767.6" cy="158.6" r="3.3" fill="none" stroke="#7aa4bc" stroke-width="1"/><path d="M770,161.2 L774,165" stroke="#7aa4bc" stroke-width="1.1"/>
<rect x="786.2" y="149.5" width="45.6" height="22.5" rx="1.2" fill="#fff" stroke="#4690b6" stroke-width="1.1"/>
<path d="M808.9,149.5 L808.9,172" stroke="#4690b6" stroke-width="1"/>
<path d="M792.4,160.6 L797.6,154.6 L802.8,160.6 L801.4,160.6 L801.4,166.2 L799,166.2 L799,162.2 L796.2,162.2 L796.2,166.2 L793.8,166.2 L793.8,160.6 Z" fill="#d4ebf8" stroke="#4f9cc8" stroke-width="0.9" stroke-linejoin="round"/>
<rect x="814.4" y="154.6" width="5" height="5" fill="#9ccdea" stroke="#4f9cc8" stroke-width="0.9"/>
<rect x="821.4" y="154.6" width="5" height="5" fill="#9ccdea" stroke="#4f9cc8" stroke-width="0.9"/>
<rect x="814.4" y="161.6" width="5" height="5" fill="#9ccdea" stroke="#4f9cc8" stroke-width="0.9"/>
<rect x="821.4" y="161.6" width="5" height="5" fill="#9ccdea" stroke="#4f9cc8" stroke-width="0.9"/>
<rect x="809.5" y="278.7" width="22.5" height="46.3" fill="#fff" opacity="0.92"/>
<rect x="809.5" y="301.6" width="22.5" height="0.6" fill="#ddd"/>
<path d="M814.7,289.7 L824.7,289.7 M819.7,284.7 L819.7,294.7" stroke="#8a8a8a" stroke-width="0.9"/>
<path d="M814.7,313.4 L824.7,313.4" stroke="#8a8a8a" stroke-width="0.9"/>
</g>
<rect x="605" y="138" width="238" height="209" fill="none" stroke="#c6c6c6" stroke-width="1"/>
<rect x="851" y="138" width="155.5" height="200" fill="#fff" stroke="#c6c6c6" stroke-width="1"/>
<text x="868.0" y="173.8" font-size="11.8" font-weight="normal" font-style="normal" fill="#5a5a5a" textLength="123.0" lengthAdjust="spacingAndGlyphs" stroke="#5a5a5a" stroke-width="0.25">San Bernardino County</text>
<g transform="translate(867.8,184.5)" fill="#868686">
<rect x="0.3" y="15.1" width="23.9" height="13.1"/>
<path d="M0.3,15.3 L2.3,7.7 L3.7,7.7 L3.7,13.6 L2,13.6 L2,15.3 Z M24.2,15.3 L22.2,7.7 L20.8,7.7 L20.8,13.6 L22.5,13.6 L22.5,15.3 Z"/>
<rect x="5.7" y="0.2" width="13.1" height="12.8"/>
<path d="M8.1,6.3 L11.8,9.7 L16.5,4.6" fill="none" stroke="#fff" stroke-width="1.5"/>
</g>
<text x="901.2" y="211.8" font-size="32.8" font-weight="normal" font-style="normal" fill="#e89a0c" textLength="89.2" lengthAdjust="spacingAndGlyphs" stroke="#e89a0c" stroke-width="0.9">1,889</text>
<text x="878.0" y="241.0" font-size="15.6" font-weight="normal" font-style="normal" fill="#555" textLength="104.4" lengthAdjust="spacingAndGlyphs" stroke="#555" stroke-width="0.3">Total Requests</text>
<text x="854.8" y="288.7" font-size="8.6" font-weight="normal" font-style="italic" fill="#7a7a7a" textLength="144.8" lengthAdjust="spacingAndGlyphs">HERO program total requests in San</text>
<text x="854.8" y="303.8" font-size="8.6" font-weight="normal" font-style="italic" fill="#7a7a7a" textLength="132.9" lengthAdjust="spacingAndGlyphs">Bernardino County, March 2020 -</text>
<text x="854.8" y="318.9" font-size="8.6" font-weight="normal" font-style="italic" fill="#7a7a7a" textLength="30.3" lengthAdjust="spacingAndGlyphs">Present</text>
<text x="914.0" y="335.0" font-size="7.5" font-weight="normal" font-style="italic" fill="#565656" textLength="90.5" lengthAdjust="spacingAndGlyphs">Last update: a minute ago</text>
<rect x="18" y="327" width="174.5" height="212.5" fill="#fff" stroke="#c6c6c6" stroke-width="1"/>
<text x="42.8" y="344.6" font-size="13.4" font-weight="bold" font-style="normal" fill="#4a4a4a" textLength="124.9" lengthAdjust="spacingAndGlyphs">Age 60+ Requests</text>
<path d="M104.90,403.70 L132.26,384.54 A33.4,33.4 0 1 1 74.16,390.65 Z" fill="#0a6cf2"/>
<path d="M104.90,403.70 L74.16,390.65 A33.4,33.4 0 0 1 132.26,384.54 Z" fill="#6fb0ff"/>
<circle cx="51.6" cy="468" r="5.7" fill="#0a6cf2"/>
<text x="60.1" y="471.3" font-size="7.6" font-weight="normal" font-style="normal" fill="#6a6a6a" textLength="12.8" lengthAdjust="spacingAndGlyphs">Yes</text>
<text x="76.9" y="471.3" font-size="7.6" font-weight="normal" font-style="normal" fill="#6a6a6a" textLength="22.6" lengthAdjust="spacingAndGlyphs">66.1%</text>
<circle cx="115.9" cy="468" r="5.7" fill="#6fb0ff"/>
<text x="124.3" y="471.3" font-size="7.6" font-weight="normal" font-style="normal" fill="#6a6a6a" textLength="11.6" lengthAdjust="spacingAndGlyphs">No</text>
<text x="140.7" y="471.3" font-size="7.6" font-weight="normal" font-style="normal" fill="#6a6a6a" textLength="22.8" lengthAdjust="spacingAndGlyphs">33.9%</text>
<text x="22.3" y="504.2" font-size="10.4" font-weight="normal" font-style="italic" fill="#7a7a7a" textLength="150.0" lengthAdjust="spacingAndGlyphs">Age 65+ requests, March 2020 -</text>
<text x="22.3" y="519.5" font-size="10.4" font-weight="normal" font-style="italic" fill="#7a7a7a" textLength="34.3" lengthAdjust="spacingAndGlyphs">Present</text>
<text x="98.2" y="535.3" font-size="7.5" font-weight="normal" font-style="italic" fill="#565656" textLength="91.4" lengthAdjust="spacingAndGlyphs">Last update: a minute ago</text>
<rect x="200" y="337.5" width="209.5" height="179.0" fill="#fff" stroke="#c6c6c6" stroke-width="1"/>
<rect x="209.3" y="516.5" width="191.89999999999998" height="24.5" fill="#fff" stroke="#c6c6c6" stroke-width="1"/>
<rect x="209.8" y="515.5" width="190.89999999999998" height="2" fill="#fff"/>
<path d="M221.9,524.3000000000001 L221.9,531.1 L217.5,527.7 Z" fill="#333"/>
<path d="M388.20000000000005,524.3000000000001 L388.20000000000005,531.1 L392.6,527.7 Z" fill="#333"/>
<text x="266.5" y="531.0" font-size="9" font-weight="normal" font-style="normal" fill="#666" textLength="77.7" lengthAdjust="spacingAndGlyphs">&lt;17 in Households</text>
<text x="226.1" y="355.2" font-size="13.7" font-weight="bold" font-style="normal" fill="#4a4a4a" textLength="157.6" lengthAdjust="spacingAndGlyphs">Under 17 in Household</text>
<rect x="332.09999999999997" y="378" width="0.6" height="58.5" fill="#dedede"/>
<rect x="384.7" y="378" width="0.6" height="58.5" fill="#dedede"/>
<rect x="280.4" y="377.9" width="104.6" height="0.6" fill="#e4e4e4"/>
<rect x="280.4" y="397.2" width="104.6" height="0.6" fill="#e4e4e4"/>
<rect x="280.4" y="416.5" width="104.6" height="0.6" fill="#e4e4e4"/>
<rect x="280.4" y="378.90" width="96.1" height="8.5" fill="#ffd83a"/>
<rect x="280.4" y="388.52" width="15.1" height="8.5" fill="#f5821f"/>
<rect x="280.4" y="398.14" width="10.1" height="8.5" fill="#9b3fa0"/>
<rect x="280.4" y="407.76" width="4.1" height="8.5" fill="#a4c639"/>
<rect x="280.4" y="417.38" width="2.2" height="8.5" fill="#2a9fd6"/>
<rect x="280.4" y="427.00" width="2.6" height="8.5" fill="#e04444"/>
<rect x="280.0" y="378" width="0.8" height="58.8" fill="#bdbdbd"/>
<rect x="280.4" y="436" width="104.8" height="0.8" fill="#bdbdbd"/>
<rect x="280.0" y="436" width="0.8" height="3.6" fill="#bdbdbd"/>
<rect x="332.0" y="436" width="0.8" height="3.6" fill="#bdbdbd"/>
<rect x="384.6" y="436" width="0.8" height="3.6" fill="#bdbdbd"/>
<text x="269.6" y="386.4" font-size="7.8" font-weight="normal" font-style="normal" fill="#777" text-anchor="middle">0</text>
<rect x="275.5" y="383.3" width="4.9" height="0.6" fill="#bdbdbd"/>
<text x="269.6" y="405.3" font-size="7.8" font-weight="normal" font-style="normal" fill="#777" text-anchor="middle">2</text>
<rect x="275.5" y="402.2" width="4.9" height="0.6" fill="#bdbdbd"/>
<text x="269.6" y="424.6" font-size="7.8" font-weight="normal" font-style="normal" fill="#777" text-anchor="middle">4</text>
<rect x="275.5" y="421.5" width="4.9" height="0.6" fill="#bdbdbd"/>
<text transform="translate(259.2,407.8) rotate(-90)" text-anchor="middle" font-size="8.4" font-weight="bold" fill="#4a4a4a" textLength="36.5" lengthAdjust="spacingAndGlyphs">Under 17</text>
<text x="280.4" y="453.6" font-size="7.8" font-weight="normal" font-style="normal" fill="#777" text-anchor="middle">0</text>
<text x="325.6" y="453.6" font-size="7.8" font-weight="normal" font-style="normal" fill="#777" textLength="14.3" lengthAdjust="spacingAndGlyphs">500</text>
<text x="380.3" y="453.6" font-size="7.8" font-weight="normal" font-style="normal" fill="#777" textLength="9.4" lengthAdjust="spacingAndGlyphs">1k</text>
<text x="299.8" y="473.0" font-size="8.4" font-weight="bold" font-style="normal" fill="#4a4a4a" textLength="65.9" lengthAdjust="spacingAndGlyphs">Total Responses</text>
<text x="204.6" y="498.4" font-size="10.4" font-weight="normal" font-style="italic" fill="#7a7a7a" textLength="179.8" lengthAdjust="spacingAndGlyphs">Data captured February 2021 - Present</text>
<text x="314.8" y="514.3" font-size="7.5" font-weight="normal" font-style="italic" fill="#565656" textLength="91.7" lengthAdjust="spacingAndGlyphs">Last update: a minute ago</text>
<rect x="417.5" y="337.5" width="179.5" height="179.29999999999995" fill="#fff" stroke="#c6c6c6" stroke-width="1"/>
<rect x="425.3" y="516.8" width="164.40000000000003" height="24.200000000000045" fill="#fff" stroke="#c6c6c6" stroke-width="1"/>
<rect x="425.8" y="515.8" width="163.40000000000003" height="2" fill="#fff"/>
<path d="M438.4,524.4000000000001 L438.4,531.2 L434,527.8000000000001 Z" fill="#333"/>
<path d="M576.8000000000001,524.4000000000001 L576.8000000000001,531.2 L581.2,527.8000000000001 Z" fill="#333"/>
<text x="468.4" y="531.1" font-size="9" font-weight="normal" font-style="normal" fill="#666" textLength="77.8" lengthAdjust="spacingAndGlyphs">60+ in Households</text>
<text x="446.8" y="355.1" font-size="13.7" font-weight="bold" font-style="normal" fill="#4a4a4a" textLength="121.6" lengthAdjust="spacingAndGlyphs">60+ in Household</text>
<rect x="573.5" y="378" width="0.6" height="44.3" fill="#dedede"/>
<rect x="498" y="378.0" width="76" height="0.6" fill="#e4e4e4"/>
<rect x="498" y="392.59999999999997" width="76" height="0.6" fill="#e4e4e4"/>
<rect x="498" y="407.09999999999997" width="76" height="0.6" fill="#e4e4e4"/>
<rect x="498" y="378.90" width="39.1" height="6.4" fill="#ffd83a"/>
<rect x="498" y="386.15" width="75.3" height="6.4" fill="#f5821f"/>
<rect x="498" y="393.40" width="62.6" height="6.4" fill="#9b3fa0"/>
<rect x="498" y="400.65" width="8.2" height="6.4" fill="#a4c639"/>
<rect x="498" y="407.90" width="2.9" height="6.4" fill="#2a9fd6"/>
<rect x="498" y="415.15" width="0.6" height="6.4" fill="#e04444"/>
<rect x="497.6" y="378" width="0.8" height="44.6" fill="#bdbdbd"/>
<rect x="498" y="421.8" width="76" height="0.8" fill="#bdbdbd"/>
<rect x="497.6" y="421.8" width="0.8" height="3.4" fill="#bdbdbd"/>
<rect x="573.4" y="421.8" width="0.8" height="3.4" fill="#bdbdbd"/>
<text x="487.0" y="385.6" font-size="7.8" font-weight="normal" font-style="normal" fill="#777" text-anchor="middle">0</text>
<rect x="493" y="382.5" width="5" height="0.6" fill="#bdbdbd"/>
<text x="487.0" y="399.3" font-size="7.8" font-weight="normal" font-style="normal" fill="#777" text-anchor="middle">2</text>
<rect x="493" y="396.2" width="5" height="0.6" fill="#bdbdbd"/>
<text x="487.0" y="414.0" font-size="7.8" font-weight="normal" font-style="normal" fill="#777" text-anchor="middle">4</text>
<rect x="493" y="410.9" width="5" height="0.6" fill="#bdbdbd"/>
<text transform="translate(476.6,400.4) rotate(-90)" text-anchor="middle" font-size="8.4" font-weight="bold" fill="#4a4a4a" textLength="13.8" lengthAdjust="spacingAndGlyphs">60+</text>
<text x="498.0" y="438.3" font-size="7.8" font-weight="normal" font-style="normal" fill="#777" text-anchor="middle">0</text>
<text x="566.8" y="438.3" font-size="7.8" font-weight="normal" font-style="normal" fill="#777" textLength="14.4" lengthAdjust="spacingAndGlyphs">500</text>
<text x="503.5" y="457.6" font-size="8.4" font-weight="bold" font-style="normal" fill="#4a4a4a" textLength="65.8" lengthAdjust="spacingAndGlyphs">Total Responses</text>
<text x="421.4" y="482.9" font-size="10.4" font-weight="normal" font-style="italic" fill="#7a7a7a" textLength="143.2" lengthAdjust="spacingAndGlyphs">Data captured February 2021 -</text>
<text x="421.4" y="498.9" font-size="10.4" font-weight="normal" font-style="italic" fill="#7a7a7a" textLength="34.9" lengthAdjust="spacingAndGlyphs">Present</text>
<text x="503.1" y="514.3" font-size="7.5" font-weight="normal" font-style="italic" fill="#565656" textLength="90.7" lengthAdjust="spacingAndGlyphs">Last update: a minute ago</text>
<rect x="605" y="356" width="238" height="183.5" fill="#fff" stroke="#c6c6c6" stroke-width="1"/>
<text x="609.9" y="374.4" font-size="13.7" font-weight="bold" font-style="normal" fill="#4a4a4a" textLength="97.9" lengthAdjust="spacingAndGlyphs">Transportation</text>
<text x="624.0" y="400.4" font-size="7.6" font-weight="bold" font-style="normal" fill="#444" textLength="9.4" lengthAdjust="spacingAndGlyphs">3k</text>
<rect x="638.6" y="397.2" width="181" height="0.8" fill="#a070b8"/>
<circle cx="654.9" cy="397.6" r="4.4" fill="#9a05dc"/>
<circle cx="680.4" cy="397.6" r="4.4" fill="#9a05dc"/>
<circle cx="705.7" cy="397.6" r="4.4" fill="#9a05dc"/>
<circle cx="731.1" cy="397.6" r="4.4" fill="#9a05dc"/>
<circle cx="756.3" cy="397.6" r="4.4" fill="#9a05dc"/>
<circle cx="781.4" cy="397.6" r="4.4" fill="#9a05dc"/>
<circle cx="806.8" cy="397.6" r="4.4" fill="#9a05dc"/>
<clipPath id="trclip"><rect x="606" y="402" width="236" height="86.5"/></clipPath>
<g clip-path="url(#trclip)" font-size="7" fill="#808080" text-anchor="middle">
<text x="654.9" y="413.5">Careg</text>
<text x="654.9" y="422.2">iver</text>
<text x="654.9" y="430.9">can</text>
<text x="654.9" y="439.7">drive</text>
<text x="654.9" y="448.4">me</text>
<text x="654.9" y="457.1">or</text>
<text x="654.9" y="465.8">pick</text>
<text x="654.9" y="474.5">up</text>
<text x="705.7" y="413.5">Famil</text>
<text x="705.7" y="422.2">y</text>
<text x="705.7" y="430.9">membe</text>
<text x="705.7" y="439.7">r/Fri</text>
<text x="705.7" y="448.4">end</text>
<text x="705.7" y="457.1">can</text>
<text x="705.7" y="465.8">drive</text>
<text x="705.7" y="474.5">me</text>
<text x="705.7" y="483.3">or</text>
<text x="705.7" y="492.0">pick</text>
<text x="756.3" y="413.5">I can</text>
<text x="756.3" y="430.9">drive</text>
<text x="756.3" y="448.4">mysel</text>
<text x="756.3" y="457.1">f</text>
<text x="806.8" y="413.5">No</text>
<text x="806.8" y="422.2">form</text>
<text x="806.8" y="430.9">of</text>
<text x="806.8" y="439.7">trans</text>
<text x="806.8" y="448.4">porta</text>
<text x="806.8" y="457.1">tion</text>
</g>
<text x="609.4" y="503.8" font-size="10.4" font-weight="normal" font-style="italic" fill="#7a7a7a" textLength="216.8" lengthAdjust="spacingAndGlyphs">Responses to the survey question, do you have</text>
<text x="609.4" y="519.4" font-size="10.4" font-weight="normal" font-style="italic" fill="#7a7a7a" textLength="71.0" lengthAdjust="spacingAndGlyphs">transportation?</text>
<text x="749.0" y="535.2" font-size="7.5" font-weight="normal" font-style="italic" fill="#565656" textLength="91.9" lengthAdjust="spacingAndGlyphs">Last update: a minute ago</text>
<rect x="851" y="346.5" width="155.5" height="193.0" fill="#fff" stroke="#c6c6c6" stroke-width="1"/>
<text x="868.6" y="380.1" font-size="15.8" font-weight="normal" font-style="normal" fill="#5a5a5a" textLength="121.1" lengthAdjust="spacingAndGlyphs" stroke="#5a5a5a" stroke-width="0.35">Riverside County</text>
<g transform="translate(867.8,392.9)" fill="#868686">
<rect x="0.3" y="15.1" width="23.9" height="13.1"/>
<path d="M0.3,15.3 L2.3,7.7 L3.7,7.7 L3.7,13.6 L2,13.6 L2,15.3 Z M24.2,15.3 L22.2,7.7 L20.8,7.7 L20.8,13.6 L22.5,13.6 L22.5,15.3 Z"/>
<rect x="5.7" y="0.2" width="13.1" height="12.8"/>
<path d="M8.1,6.3 L11.8,9.7 L16.5,4.6" fill="none" stroke="#fff" stroke-width="1.5"/>
</g>
<text x="902.2" y="419.3" font-size="32" font-weight="normal" font-style="normal" fill="#38a012" textLength="86.6" lengthAdjust="spacingAndGlyphs" stroke="#38a012" stroke-width="0.9">6,207</text>
<text x="883.6" y="446.6" font-size="13.6" font-weight="normal" font-style="normal" fill="#555" textLength="93.3" lengthAdjust="spacingAndGlyphs" stroke="#555" stroke-width="0.3">Total Requests</text>
<text x="855.2" y="488.3" font-size="8.6" font-weight="normal" font-style="italic" fill="#7a7a7a" textLength="127.3" lengthAdjust="spacingAndGlyphs">HERO program total requests in</text>
<text x="855.2" y="503.9" font-size="8.6" font-weight="normal" font-style="italic" fill="#7a7a7a" textLength="124.9" lengthAdjust="spacingAndGlyphs">Riverside County, March 2020 -</text>
<text x="855.2" y="519.1" font-size="8.6" font-weight="normal" font-style="italic" fill="#7a7a7a" textLength="30.0" lengthAdjust="spacingAndGlyphs">Present</text>
<text x="913.6" y="535.6" font-size="7.5" font-weight="normal" font-style="italic" fill="#565656" textLength="91.4" lengthAdjust="spacingAndGlyphs">Last update: a minute ago</text>
</g></g>
<rect x="577" y="290.8" width="371.5" height="29.8" fill="none" stroke="#555" stroke-width="0.9" stroke-dasharray="1.2,1.5"/>
<rect x="577.5" y="291.3" width="19" height="28.8" fill="#fff"/>
<text x="578.2" y="313.6" font-size="23" font-weight="normal" font-style="normal" fill="#d4f0fb" textLength="123.2" lengthAdjust="spacingAndGlyphs" opacity="0.9">Presenter(s)</text>
</svg>
</body></html>
